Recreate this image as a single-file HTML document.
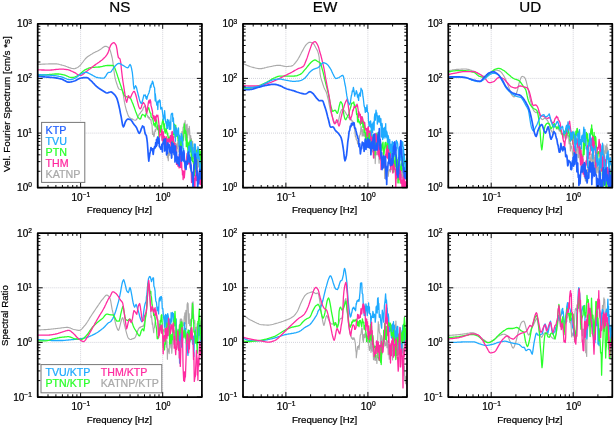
<!DOCTYPE html>
<html><head><meta charset="utf-8"><title>Spectra</title>
<style>
html,body{margin:0;padding:0;background:#fff;}
body{width:614px;height:426px;overflow:hidden;font-family:"Liberation Sans",sans-serif;}
svg{display:block;will-change:transform;opacity:0.999;}
text{font-family:"Liberation Sans",sans-serif;fill:#000;stroke:#000;stroke-width:0.24;}
.lg text{stroke-width:0.25;}
.c{fill:none;stroke-linejoin:round;stroke-linecap:round;}
.g{stroke:#c2c2cc;stroke-width:0.7;stroke-dasharray:1 1;fill:none;}
.t{stroke:#000;stroke-width:0.95;fill:none;}
.b{stroke:#000;stroke-width:1.75;fill:none;stroke-linejoin:round;}
</style></head><body>
<svg width="614" height="426" viewBox="0 0 614 426">
<rect x="0" y="0" width="614" height="426" fill="#ffffff"/>
<g id="p1">
<clipPath id="cp1"><rect x="37.7" y="23.8" width="164.2" height="163.9"/></clipPath>
<path class="g" d="M80.6 23.8V187.7"/>
<path class="g" d="M162.7 23.8V187.7"/>
<path class="g" d="M37.7 78.4H201.9"/>
<path class="g" d="M37.7 133.1H201.9"/>
<g clip-path="url(#cp1)">
<path class="c" stroke="#aaaaaa" stroke-width="1.15" d="M36.4 64.4 L37.2 64.4 L38 64.4 L38.7 64.4 L39.5 64.3 L40.3 64.3 L41.1 64.3 L41.8 64.2 L42.6 64.2 L43.4 64.1 L44.2 64.1 L44.9 64.1 L45.7 64 L46.5 64 L47.3 64 L48 64 L48.8 63.9 L49.6 63.9 L50.4 63.9 L51.1 63.9 L51.9 63.8 L52.7 63.8 L53.5 63.8 L54.2 63.8 L55 63.8 L55.8 63.8 L56.6 63.9 L57.3 64 L58.1 64.1 L58.9 64.3 L59.6 64.5 L60.4 64.7 L61.2 64.9 L61.9 65.1 L62.7 65.3 L63.5 65.5 L64.2 65.7 L65 65.9 L65.7 66.2 L66.5 66.5 L67.2 66.8 L68 67.1 L68.7 67.4 L69.5 67.7 L70.3 67.9 L71 68.2 L71.8 68.4 L72.5 68.5 L73.3 68.6 L74 68.7 L74.7 68.6 L75.4 68.4 L76.1 68.1 L76.8 67.8 L77.6 67.4 L78.3 67 L79 66.4 L79.8 65.8 L80.6 64.9 L81.3 64 L82.1 63 L82.9 62 L83.6 61 L84.4 60 L85.2 59 L85.9 58.2 L86.7 57.5 L87.5 56.8 L88.3 56.2 L89.1 55.7 L89.9 55.2 L90.7 54.6 L91.5 54.2 L92.3 53.7 L93 53.2 L93.8 52.8 L94.6 52.4 L95.4 52 L96.2 51.6 L97 51.3 L97.8 50.9 L98.6 50.5 L99.4 50.1 L100.2 49.6 L101 49 L101.8 48.4 L102.6 47.7 L103.3 47.2 L104.1 46.7 L104.9 46.4 L105.7 46.3 L106.5 46.4 L107.3 46.8 L108.1 47.3 L108.9 48 L109.7 49.2 L110.5 51.4 L111.3 54.3 L112.1 57.5 L112.9 62 L113.6 68 L114.4 74 L115.2 78.6 L116 81.3 L116.7 83.5 L117.4 85.7 L118.2 87.9 L118.9 89 L119.6 89.3 L120.3 89.5 L120.9 89.6 L121.6 89.8 L122.3 90.1 L123 92.8 L123.8 97.8 L124.5 102.4 L125.2 105.7 L126 108.8 L126.7 111.3 L127.5 113.6 L128.2 115.6 L129 116.9 L129.6 117.6 L130.3 118.1 L131 118.5 L131.6 118.8 L131.8 118.9 L132.3 119.1 L133 119.4 L133.6 119.7 L134.3 120 L135 120.2 L135.6 120.2 L136.3 119.8 L136.6 119.4 L137 118.9 L137.7 117.4 L138.3 115.8 L138.7 115.4 L139 114.6 L139.7 113.6 L140.3 113.2 L140.8 112.1 L141 111.9 L141.7 111.3 L142.3 109.9 L142.7 110 L143.1 108.1 L143.8 107.1 L144.5 105.9 L145.3 107.3 L146.1 111.3 L146.3 111.8 L146.8 114.9 L147.5 115.4 L147.9 117.5 L148.3 116.5 L149 118.6 L149.5 117.5 L149.8 119.2 L150.5 119.9 L151 119.6 L151.3 122.9 L152 124.5 L152.5 134.5 L152.7 130.9 L153.5 135.1 L153.9 136.6 L154.1 136.3 L154.7 132.1 L155.2 129.5 L155.4 131.5 L156.1 128.9 L156.5 127.1 L156.8 126.2 L157.5 129.7 L157.8 125.1 L158.2 130.1 L158.9 125.4 L159.7 130.7 L160.1 126.4 L160.4 129.6 L161.2 131.9 L161.9 140.2 L162.4 131.6 L162.7 144.6 L163.4 140.2 L164.2 137.3 L164.5 149.4 L164.9 140.9 L165.5 146.6 L165.7 144.9 L166.4 148 L167.1 150.8 L167.4 157.6 L167.8 156.3 L168.3 160.7 L168.5 153.3 L169.1 151.7 L169.7 155.5 L170.1 150.5 L170.4 151.3 L171 145 L171.8 157.5 L172.5 146.2 L172.6 143.8 L173.2 142.6 L173.4 140.5 L173.9 141.4 L174.2 145.2 L174.6 152.6 L175 142.9 L175.3 143 L175.7 151.2 L176 144 L176.5 147 L176.7 146.9 L177.2 143.2 L177.4 148.7 L177.9 140.7 L178.1 151.9 L178.6 140.6 L178.8 140.7 L179.3 142.3 L179.5 140.8 L179.9 135.9 L180.2 145.3 L180.6 139.8 L180.9 136.3 L181.2 141.6 L181.6 142 L181.9 131.5 L182.3 134.3 L182.5 137.9 L183.1 127.1 L183.7 127.3 L184.3 122.8 L184.5 126.1 L184.9 133.1 L185.1 120.6 L185.4 140.2 L185.7 132.2 L186 124.8 L186.3 128.7 L186.5 139 L187.1 124 L187.6 138.1 L187.8 131.3 L188.1 129.4 L188.6 128.6 L189.2 135 L189.3 126.4 L189.7 131.5 L190.1 148 L190.7 135.5 L191.2 146.4 L191.3 138.3 L191.6 140.8 L192 143.1 L192.1 153.4 L192.6 141.3 L193 158.1 L193.2 149.3 L193.5 158.8 L193.8 147.5 L194.4 154.5 L194.8 152.6 L195.1 153.3 L195.3 146 L195.7 147.1 L196.1 154.8 L196.4 151.9 L196.5 150.3 L196.9 157.5 L197.3 157.8 L197.6 169.1 L197.7 157.1 L198.1 158.9 L198.4 166.9 L198.5 158.4 L198.9 156.2 L199.1 158.2 L199.3 156.5 L199.7 155.4 L199.9 163.2 L200.1 157.6 L200.4 155.7 L200.6 157.1 L200.8 153.4 L201.2 159.4 L201.4 153.5 L201.5 152.6 L201.9 157.2 L202.1 153.5"/>
<path class="c" stroke="#2bff2b" stroke-width="1.3" d="M36.4 75.4 L37.2 75.4 L38 75.3 L38.8 75.3 L39.5 75.2 L40.3 75.2 L41.1 75.1 L41.9 75.1 L42.7 75 L43.4 75 L44.2 74.9 L45 74.9 L45.8 74.8 L46.6 74.8 L47.3 74.7 L48.1 74.7 L48.8 74.6 L49.6 74.5 L50.3 74.4 L51.1 74.4 L51.8 74.3 L52.6 74.2 L53.4 74.1 L54.1 74.1 L54.9 74 L55.6 74 L56.4 74 L57.1 73.9 L57.9 74 L58.7 74 L59.5 74.1 L60.3 74.2 L61.1 74.4 L61.9 74.5 L62.7 74.6 L63.5 74.8 L64.2 75 L65 75.2 L65.8 75.5 L66.5 75.8 L67.3 76.2 L68.1 76.5 L68.8 76.8 L69.6 77.1 L70.4 77.3 L71.1 77.5 L71.9 77.5 L72.7 77.5 L73.5 77.3 L74.3 77.1 L75.1 76.9 L75.9 76.5 L76.7 76.2 L77.5 75.8 L78.3 75.4 L79 75 L79.8 74.3 L80.6 73.6 L81.4 72.8 L82.2 72.1 L83 71.3 L83.8 70.7 L84.6 70.1 L85.4 69.7 L86.2 69.3 L87 68.9 L87.8 68.6 L88.6 68.2 L89.3 68 L90.1 67.7 L90.9 67.6 L91.7 67.5 L92.5 67.4 L93.2 67.4 L94 67.3 L94.8 67.3 L95.5 67.2 L96.3 67.2 L97.1 67.2 L97.8 67.1 L98.6 67 L99.4 67 L100.2 66.9 L100.9 66.7 L101.7 66.6 L102.5 66.4 L103.2 66.2 L104 66 L104.8 65.9 L105.5 65.7 L106.3 65.6 L107.1 65.5 L107.8 65.5 L108.5 65.5 L109.2 65.5 L109.9 65.5 L110.7 65.5 L111.4 65.5 L112.1 65.5 L112.7 65.5 L113.3 65.6 L114.1 66.4 L114.8 68.1 L115.6 70.1 L116.3 72.1 L117.1 74.4 L117.8 76.8 L118.5 78.8 L119.1 80.8 L119.8 82.9 L120.5 84.9 L121.2 86.8 L121.8 88.8 L122.5 91 L123.2 93.1 L123.8 94.7 L124.5 95.7 L125.2 96.2 L126 96.5 L126.7 96.8 L127.4 97.1 L128.1 97.2 L128.7 97.4 L129.4 97.6 L130.1 97.9 L130.8 98.9 L131.6 100.6 L131.8 101.2 L132.3 102.4 L133 104 L133.6 105.8 L134.3 107.5 L135 109.6 L135.6 111.4 L136.4 113.3 L136.6 113.9 L137.1 115.3 L137.9 117.2 L138.6 117.9 L139.4 118.6 L140.1 119.1 L140.8 118.3 L141.6 115.7 L142.3 114.5 L142.7 114.4 L143.1 114.8 L143.8 115 L144.5 115.5 L145.2 117 L145.9 114.3 L146.3 112.9 L146.6 111.3 L147.2 111.1 L147.9 108.4 L148.7 107.7 L149.4 110.3 L150.1 112.8 L150.9 113.5 L151 116.6 L151.6 117.7 L152.4 117.8 L153.1 120.5 L153.9 125.1 L154.6 123.8 L155.2 126.9 L155.7 120.5 L156.3 121.7 L156.5 119.8 L157 124.6 L157.7 129.2 L158.4 128.5 L159 137.3 L159.1 132.6 L159.7 129.3 L160.1 131.8 L160.4 125.6 L161 127.3 L161.3 132.5 L161.6 126.7 L162.2 122.9 L162.4 121.9 L162.9 119.5 L163.4 121.6 L164.1 129.3 L164.5 123.8 L164.7 131.3 L165.4 133.2 L166.2 128.3 L166.4 129.8 L166.9 132 L167.4 135 L167.6 133.2 L168.3 138.8 L169 137.4 L169.2 139.1 L169.7 141.3 L170.1 136.6 L170.4 141.3 L171 137.9 L171.6 138.2 L171.8 136.4 L172.3 144 L172.6 141.8 L173 132.9 L173.4 134.7 L173.7 132.8 L174.2 134.2 L174.4 124.2 L175 137.3 L175.7 125.2 L176.3 134.1 L176.5 129.6 L176.9 133 L177.2 130.8 L177.6 135.8 L177.9 138.7 L178.2 140.6 L178.6 138.6 L178.8 137.5 L179.3 143.5 L179.5 140.9 L179.9 145.6 L180.2 140.4 L180.6 154.7 L180.9 142.7 L181.2 141.1 L181.6 143.9 L181.9 148.3 L182.3 138.1 L182.5 139.1 L183.1 140.9 L183.7 136.1 L184.3 123.8 L184.5 127.4 L184.9 133.1 L185.1 129.9 L185.4 133.4 L185.7 130.8 L186 132.3 L186.3 146.7 L186.5 134 L187 141.7 L187.1 138.8 L187.6 146.5 L188.1 152.4 L188.7 142.7 L188.9 155.7 L189.2 141.9 L189.6 149.1 L190.2 148 L190.3 140.3 L190.7 151.9 L191 140.1 L191.2 160.3 L191.6 142.3 L192.1 154.8 L192.3 151.3 L192.6 161.5 L192.9 153.5 L193 160.5 L193.5 163.9 L193.9 161.9 L194.2 167 L194.4 175.8 L194.8 167.6 L195.3 171.8 L195.4 162.3 L195.7 169.8 L196 155.7 L196.5 164.8 L196.7 162 L196.9 150.2 L197.3 153.1 L197.7 157 L197.9 148.9 L198.1 149.7 L198.5 151.5 L198.9 152.9 L199.2 149.4 L199.7 155.9 L199.9 155 L200.1 153.4 L200.4 169.3 L200.6 151.1 L200.8 156.1 L201.2 158.1 L201.4 156.1 L201.5 164.6 L201.9 151 L202.1 160.1"/>
<path class="c" stroke="#ff2ba0" stroke-width="1.3" d="M36.4 69.7 L37.2 69.7 L38 69.8 L38.7 69.8 L39.5 69.8 L40.3 69.9 L41 69.9 L41.8 70 L42.5 70 L43.3 70 L44.1 70 L44.8 70.1 L45.6 70.1 L46.4 70.1 L47.1 70.1 L47.9 70.1 L48.7 70.1 L49.5 70.1 L50.3 70.1 L51.1 70 L51.8 70 L52.6 69.9 L53.4 69.8 L54.2 69.7 L55 69.6 L55.8 69.5 L56.6 69.4 L57.4 69.3 L58.2 69.3 L59 69.2 L59.8 69.1 L60.6 69.1 L61.4 69.1 L62.1 69.1 L62.9 69.1 L63.7 69.2 L64.5 69.3 L65.3 69.4 L66.1 69.5 L66.9 69.6 L67.7 69.7 L68.5 69.9 L69.3 70.1 L70.1 70.4 L70.9 70.8 L71.7 71.1 L72.4 71.5 L73.2 71.9 L74 72.3 L74.8 72.7 L75.6 73.1 L76.4 73.7 L77.2 74.2 L78 74.7 L78.8 75.1 L79.6 75.3 L80.4 75.4 L81.2 75.3 L82 75 L82.7 74.5 L83.5 73.9 L84.3 73.2 L85.1 72.5 L85.9 71.8 L86.7 71.2 L87.5 70.7 L88.2 70.1 L89 69.5 L89.8 69 L90.5 68.4 L91.3 67.8 L92.1 67.2 L92.9 66.6 L93.6 66 L94.4 65.4 L95.2 64.9 L95.9 64.3 L96.7 63.8 L97.5 63.2 L98.2 62.7 L99 62.2 L99.8 61.6 L100.5 61.1 L101.3 60.5 L102.1 59.9 L102.8 59.2 L103.6 58.5 L104.3 57.8 L105 57.1 L105.7 56.3 L106.4 55.4 L107.1 54.4 L107.8 53.2 L108.6 51.3 L109.4 48.8 L110.2 46.4 L111 44.8 L111.7 44 L112.4 43.3 L113.1 42.9 L113.8 42.7 L114.4 42.9 L115 43.6 L115.7 44.6 L116.3 45.8 L117 49.3 L117.7 54.3 L118.4 57.5 L118.9 58 L119.5 58.4 L120 58.9 L120.8 62.9 L121.5 70 L122.3 76.8 L123 82 L123.8 86.8 L124.5 91.3 L125.2 96 L126 100.5 L126.7 102.4 L127.5 99.1 L128.3 95.7 L128.9 96.3 L129.5 97.4 L130.1 97.9 L130.8 97 L131.6 95.1 L131.8 94.6 L132.3 93.5 L132.9 92.5 L133.5 91.6 L134.1 91.3 L134.3 91.5 L134.8 92.2 L135.6 94.3 L136.3 96.8 L136.6 97.9 L137.1 100.1 L137.9 103.4 L138.6 106.2 L139.4 108.1 L140.1 108.9 L140.8 108.3 L141.4 106.9 L142.1 104.4 L142.7 103.3 L143.5 102.4 L144 103.6 L144.5 103.8 L144.6 104.2 L145.2 105.3 L146 109 L146.3 111.4 L146.8 113.3 L147.6 107 L147.9 106.1 L148.4 102.2 L149 100.4 L149.5 103 L150.1 99.7 L150.7 101.4 L151 105.7 L151.3 106.4 L151.9 109 L152.5 111.5 L152.7 114.9 L153.5 118.6 L153.9 115.6 L154.2 119.3 L155 121.2 L155.2 116.6 L155.7 121.3 L156.5 115.1 L157.3 116.5 L157.8 115.1 L158.5 120.2 L159 124.6 L159.6 137 L160 135.2 L160.7 134.5 L161.3 134.3 L161.9 129.4 L162.4 140.7 L162.6 132.2 L163.3 131.8 L164 144 L164.5 136.4 L164.7 137.9 L165.4 146.3 L166.2 136.7 L166.4 138.3 L166.9 149.4 L167.4 139 L167.6 139.6 L168.3 142.1 L169 138.7 L169.2 140 L169.7 141.7 L170.1 142.8 L170.4 135.4 L171 146.2 L171.6 140.2 L171.8 132.2 L172.3 131.5 L172.6 140.5 L172.9 137.1 L173.4 136.6 L174.1 152.7 L174.8 143.1 L175 148.3 L175.4 153.4 L175.7 152.9 L176 146.1 L176.5 164.4 L176.6 155.7 L177.2 157.6 L177.9 166.1 L178.5 158.7 L179.1 167.9 L179.3 154.2 L179.8 157.4 L179.9 156.2 L180.4 167.4 L180.6 156 L181 164.8 L181.2 167.6 L181.6 161.8 L181.9 169.6 L182.3 171 L182.5 174.9 L182.9 170.8 L183.1 179.6 L183.5 171.1 L183.7 174.5 L184.1 177.8 L184.3 177.9 L184.8 172 L185.4 162 L186 167.9 L186.5 158.1 L187.1 153.5 L187.3 163.3 L187.6 152.5 L188 157.4 L188.1 154.8 L188.7 163.9 L189.2 162.7 L189.4 163.3 L189.7 158.1 L190.1 167.2 L190.7 163.6 L191.2 168.2 L191.5 182.5 L191.6 173.5 L192.1 172.4 L192.6 180.8 L192.9 173.8 L193 178.8 L193.5 176.9 L193.9 184.4 L194.2 178.4 L194.4 181.8 L194.8 191 L195.3 175.3 L195.4 178.3 L195.7 179.7 L196 169.8 L196.5 180.6 L196.7 166.3 L196.9 179.4 L197.3 170.2 L197.7 178.6 L197.9 182.1 L198.1 182.1 L198.5 176.3 L198.9 177.5 L199.2 172.8 L199.7 183.4 L199.9 166.2 L200.1 184.5 L200.4 166.1 L200.6 184.7 L200.8 167.8 L201.2 173.1 L201.4 166.5 L201.5 169.5 L201.9 169.8 L202.1 170.9"/>
<path class="c" stroke="#1faaff" stroke-width="1.3" d="M36.4 74.4 L37.2 74.4 L37.9 74.5 L38.6 74.5 L39.3 74.6 L40.1 74.7 L40.8 74.7 L41.5 74.8 L42.3 74.9 L43 74.9 L43.7 75 L44.5 75 L45.2 75 L46 75.1 L46.8 75.1 L47.5 75.2 L48.3 75.2 L49.1 75.2 L49.8 75.2 L50.6 75.3 L51.4 75.3 L52.1 75.4 L52.9 75.4 L53.7 75.5 L54.4 75.6 L55.2 75.7 L56 75.8 L56.7 75.9 L57.5 76.1 L58.3 76.2 L59 76.4 L59.8 76.6 L60.6 76.7 L61.4 76.9 L62.1 77.1 L62.9 77.4 L63.7 77.7 L64.4 78 L65.2 78.4 L66 78.7 L66.7 79 L67.5 79.3 L68.3 79.5 L69 79.6 L69.8 79.7 L70.6 79.6 L71.3 79.5 L72.1 79.3 L72.8 79.1 L73.6 78.8 L74.3 78.5 L75.1 78.2 L75.8 77.8 L76.6 77.3 L77.4 76.7 L78.1 76 L78.9 75.4 L79.6 74.8 L80.4 74.4 L81.1 74 L81.9 73.6 L82.6 73.2 L83.4 72.8 L84.1 72.5 L84.9 72.3 L85.7 72.3 L86.4 72.3 L87.2 72.5 L87.9 72.8 L88.7 73.2 L89.4 73.6 L90.2 74 L90.9 74.4 L91.7 74.8 L92.5 75.2 L93.3 75.7 L94.1 76.2 L94.9 76.6 L95.7 77 L96.5 77.3 L97.3 77.5 L98.1 77.7 L98.9 77.8 L99.6 77.9 L100.4 78 L101.2 78.1 L102 78.1 L102.8 78.2 L103.6 78.2 L104.4 77.8 L105.1 77 L105.9 75.8 L106.6 74.6 L107.4 73.4 L108.1 72.6 L108.9 72.3 L109.4 72.3 L110 72.3 L110.7 72 L111.5 71.2 L112.2 70 L113 68.8 L113.7 67.6 L114.5 66.7 L115.2 66 L115.9 65.2 L116.7 64.5 L117.4 63.9 L118.2 63.5 L118.9 63.4 L119.7 63.5 L120.4 63.8 L121.2 64.2 L121.9 64.7 L122.6 65.2 L123.4 65.6 L124.1 66 L124.9 66.5 L125.6 67 L126.4 67.4 L127.1 67.7 L127.8 67.8 L128.6 67 L129.3 65.4 L130.1 64.5 L130.8 65.7 L131.6 68.6 L131.8 69.8 L132.3 72.3 L132.9 78 L133.5 85.4 L134.1 89 L134.3 88.7 L134.9 87.3 L135.6 85.7 L136.4 87.2 L136.6 87.9 L137.1 90.3 L137.9 93.4 L138.5 96.1 L138.7 96.5 L139.2 98.7 L139.9 101.3 L140.6 102.7 L140.8 102.8 L141.2 103.4 L141.9 102.8 L142.6 100.3 L142.7 99.8 L143.2 97.9 L143.9 95 L144.5 95.6 L145.3 94.9 L146.1 98.4 L146.3 96.6 L146.8 99.3 L147.5 96.4 L147.9 95 L148.3 94.2 L149 92.7 L149.5 90.5 L149.8 89.7 L150.5 85.5 L151 87.3 L151.3 83.8 L151.9 84 L152.4 81.1 L153 82.2 L153.8 86.4 L154.6 88 L155.2 100.8 L155.3 93.7 L156.1 101.6 L156.5 102.6 L156.8 105.2 L157.5 101.8 L157.8 109.5 L158.2 101 L158.8 102.1 L159 102 L159.5 99.9 L160.1 100.6 L160.7 109 L161.3 108.3 L161.9 107.5 L162.4 111.3 L163.1 117.1 L163.4 120.2 L163.9 118.1 L164.5 113.5 L164.6 110.6 L165.4 120.3 L166.1 123.6 L166.4 122.1 L166.9 128.1 L167.4 119.4 L167.6 128.5 L168.3 122.2 L168.9 119.8 L169.2 124.6 L169.4 129.4 L170.1 122.2 L170.7 129.3 L171 116.1 L171.3 114 L171.8 114.4 L172.1 113.2 L172.6 113.5 L172.8 121.4 L173.4 117.8 L174.1 133.4 L174.8 125.6 L175 127.5 L175.4 141.3 L175.7 130 L176 135 L176.5 136.3 L176.6 128 L177.2 135.6 L177.9 132.9 L178.5 128 L179.1 146.6 L179.3 134.9 L179.8 143.3 L179.9 139.4 L180.4 138.4 L180.6 138.6 L181 138.9 L181.2 133.4 L181.6 140.8 L181.9 134.9 L182.3 144.8 L182.5 136.9 L182.9 144.6 L183.1 151.6 L183.5 148.3 L183.7 151.8 L184.1 162 L184.3 160.2 L184.8 166.5 L185.4 168.5 L186 165.3 L186.5 165.8 L187.1 160.8 L187.3 163.4 L187.6 152.6 L187.9 162.5 L188.1 150.7 L188.5 161.4 L188.7 146.2 L189.2 147.6 L189.7 152.2 L190.2 144.4 L190.4 142.6 L190.7 143.9 L191 144.6 L191.2 141.2 L191.6 144.3 L192.1 153.4 L192.3 147.5 L192.6 156.5 L192.9 151.2 L193 153.5 L193.5 151.3 L193.9 155.6 L194.2 144 L194.4 157.4 L194.8 147.1 L195.3 144.2 L195.4 156.5 L195.7 152.1 L196 158.4 L196.5 153 L196.7 154.7 L196.9 156.3 L197.3 156.4 L197.7 158.6 L197.9 146.6 L198.1 147.3 L198.5 154 L198.9 159.2 L199.2 157.2 L199.7 168.5 L199.9 160.7 L200.1 176.1 L200.4 165.4 L200.6 168.5 L200.8 164.1 L201.2 169.7 L201.4 166.1 L201.5 169.7 L201.9 162.4 L202.1 163.4"/>
<path class="c" stroke="#1f5fff" stroke-width="1.7" d="M36.4 76.1 L37.2 76.1 L37.9 76.2 L38.6 76.3 L39.3 76.4 L40.1 76.5 L40.8 76.5 L41.5 76.6 L42.3 76.7 L43 76.8 L43.7 76.8 L44.5 76.9 L45.2 77 L46 77 L46.8 77.1 L47.5 77.1 L48.3 77.2 L49.1 77.2 L49.8 77.3 L50.6 77.3 L51.4 77.4 L52.1 77.5 L52.9 77.5 L53.7 77.6 L54.4 77.7 L55.2 77.8 L56 77.9 L56.7 78.1 L57.5 78.2 L58.3 78.3 L59 78.5 L59.8 78.7 L60.6 78.8 L61.4 79 L62.1 79.3 L62.8 79.6 L63.6 80 L64.3 80.4 L65.1 80.8 L65.8 81.2 L66.5 81.6 L67.3 81.9 L68 82.1 L68.7 82.2 L69.5 82.2 L70.3 82 L71.1 81.9 L71.9 81.7 L72.7 81.5 L73.5 81.2 L74.3 81 L75.1 80.7 L75.8 80.4 L76.6 80 L77.4 79.6 L78.1 79.1 L78.9 78.7 L79.6 78.4 L80.4 78.2 L81.2 78 L82 77.9 L82.7 77.8 L83.5 77.7 L84.3 77.6 L85.1 77.6 L85.9 77.6 L86.7 77.5 L87.4 77.7 L88.1 78.1 L88.8 78.7 L89.5 79.4 L90.2 80.1 L90.9 80.7 L91.7 81.4 L92.5 82.2 L93.3 83.1 L94.1 83.9 L94.9 84.8 L95.7 85.6 L96.5 86.4 L97.3 87 L98.1 87.7 L98.9 88.2 L99.6 88.8 L100.4 89.3 L101.2 89.8 L102 90.3 L102.8 90.8 L103.6 91.3 L104.4 91.8 L105.2 92.3 L106 92.8 L106.8 93 L107.5 92.9 L108.2 92.7 L108.9 92.4 L109.6 92.2 L110.3 92 L111 91.9 L111.8 92.2 L112.6 92.8 L113.3 93.5 L114 94.1 L114.7 94.8 L115.4 95.7 L116 96.7 L116.7 97.9 L117.4 99.9 L118.2 102.7 L118.9 105.8 L119.7 109.2 L120.4 113.1 L121.2 116.9 L121.9 121.1 L122.6 125.1 L123.4 126.9 L124.1 125.7 L124.9 123.3 L125.6 121.4 L126.4 120.3 L127.1 119.5 L127.8 119.1 L128.6 119.2 L129.3 119.3 L130 119.4 L130.8 119.8 L131.5 120.7 L131.8 121.1 L132.3 121.8 L133 123 L133.8 124.1 L134.3 124.7 L134.5 125 L135.2 125.8 L135.9 126.8 L136.6 127.8 L137.3 129.5 L138 131.2 L138.7 132.8 L139.4 133.3 L140 132.4 L140.6 131.2 L141.3 128.6 L141.9 127.7 L142.5 126 L142.7 126.1 L143.1 126.5 L143.8 126.7 L144.4 129.7 L145 133.1 L145.6 134.7 L146.3 135.3 L146.9 139 L147.4 143.2 L147.8 148.6 L148.3 155.9 L148.8 161.1 L149.2 157.4 L149.5 156.5 L149.7 154.3 L150.4 151.4 L151 147.5 L151.8 149.8 L152.5 148.8 L153.2 154.4 L153.8 149.7 L154.4 147.2 L155 146.1 L155.2 147.8 L155.7 142.5 L156.3 146.5 L156.5 139.6 L156.9 145.3 L157.5 137.7 L157.8 137 L158.2 138.1 L158.8 143.4 L159 138.3 L159.4 146.8 L160 146.8 L160.7 149.1 L161.3 148.5 L161.9 144.4 L162.4 152 L162.7 143.4 L163.4 143.1 L164.1 139.4 L164.5 139.3 L164.7 150.9 L165.4 138.9 L166 146.3 L166.4 148.1 L166.6 155 L167.2 146.8 L167.4 153.3 L167.9 142.8 L168.3 145.3 L168.5 146 L169.1 144.6 L169.7 151.8 L170.1 147.2 L170.4 153 L171 147.1 L171.6 158.1 L171.8 142.4 L172.3 144.4 L172.6 148.3 L172.9 152.5 L173.4 143.9 L174.1 154.7 L174.8 146 L175 161.9 L175.4 146.1 L175.7 159.2 L176 159.3 L176.5 152.4 L176.6 159.8 L177.2 163.6 L177.9 157.2 L178.5 160.4 L179.2 165.8 L179.9 146.2 L180.6 154.1 L180.7 148.8 L181.2 146.7 L181.5 161.2 L181.9 151.8 L182.2 158.1 L182.5 159.9 L182.8 153.7 L183.1 154.3 L183.5 161 L183.7 150.6 L184.1 152.8 L184.3 160 L184.7 160.1 L185.4 167.4 L186 169.4 L186.5 161.3 L187.1 164 L187.3 164.2 L187.6 162.6 L187.9 158.3 L188.1 156.4 L188.5 152.1 L188.7 157.3 L189.2 155 L189.7 162 L190.2 158.5 L190.4 157.5 L190.7 169.1 L191 164.9 L191.2 170.8 L191.6 171.8 L192.1 172.8 L192.3 177 L192.6 182 L192.9 178.4 L193 189 L193.5 173.6 L193.9 165.3 L194.2 164 L194.4 168.9 L194.8 154.2 L195.3 154.5 L195.4 163 L195.7 157.5 L196 163.5 L196.5 160 L196.7 172 L196.9 175.6 L197.3 171.1 L197.7 188.5 L198 180.3 L198.1 180.5 L198.5 183.8 L198.9 178.9 L199.2 176.6 L199.7 169.3 L199.9 172.6 L200.1 178.9 L200.4 172.2 L200.6 172.1 L200.8 178.4 L201.2 173.7 L201.4 169.9 L201.5 174.3 L201.9 179.9 L202.1 168.3"/>
</g>
<path class="t" d="M37.7 187.7v-2.7M37.7 23.8v2.7M48 187.7v-2.7M48 23.8v2.7M55.9 187.7v-2.7M55.9 23.8v2.7M62.4 187.7v-2.7M62.4 23.8v2.7M67.9 187.7v-2.7M67.9 23.8v2.7M72.7 187.7v-2.7M72.7 23.8v2.7M76.9 187.7v-2.7M76.9 23.8v2.7M80.6 187.7v-5M80.6 23.8v5M105.3 187.7v-2.7M105.3 23.8v2.7M119.8 187.7v-2.7M119.8 23.8v2.7M130.1 187.7v-2.7M130.1 23.8v2.7M138 187.7v-2.7M138 23.8v2.7M144.5 187.7v-2.7M144.5 23.8v2.7M150 187.7v-2.7M150 23.8v2.7M154.8 187.7v-2.7M154.8 23.8v2.7M159 187.7v-2.7M159 23.8v2.7M162.7 187.7v-5M162.7 23.8v5M187.4 187.7v-2.7M187.4 23.8v2.7M201.9 187.7v-2.7M201.9 23.8v2.7M37.7 187.7h5M201.9 187.7h-5M37.7 171.3h2.7M201.9 171.3h-2.7M37.7 161.6h2.7M201.9 161.6h-2.7M37.7 154.8h2.7M201.9 154.8h-2.7M37.7 149.5h2.7M201.9 149.5h-2.7M37.7 145.2h2.7M201.9 145.2h-2.7M37.7 141.5h2.7M201.9 141.5h-2.7M37.7 138.4h2.7M201.9 138.4h-2.7M37.7 135.6h2.7M201.9 135.6h-2.7M37.7 133.1h5M201.9 133.1h-5M37.7 116.6h2.7M201.9 116.6h-2.7M37.7 107h2.7M201.9 107h-2.7M37.7 100.2h2.7M201.9 100.2h-2.7M37.7 94.9h2.7M201.9 94.9h-2.7M37.7 90.6h2.7M201.9 90.6h-2.7M37.7 86.9h2.7M201.9 86.9h-2.7M37.7 83.7h2.7M201.9 83.7h-2.7M37.7 80.9h2.7M201.9 80.9h-2.7M37.7 78.4h5M201.9 78.4h-5M37.7 62h2.7M201.9 62h-2.7M37.7 52.4h2.7M201.9 52.4h-2.7M37.7 45.5h2.7M201.9 45.5h-2.7M37.7 40.2h2.7M201.9 40.2h-2.7M37.7 35.9h2.7M201.9 35.9h-2.7M37.7 32.3h2.7M201.9 32.3h-2.7M37.7 29.1h2.7M201.9 29.1h-2.7M37.7 26.3h2.7M201.9 26.3h-2.7"/>
<rect class="b" x="37.7" y="23.8" width="164.2" height="163.9"/>
<text x="31.9" y="27.3" font-size="10" text-anchor="end">10<tspan font-size="6.6" dy="-3.8">3</tspan></text>
<text x="31.9" y="81.9" font-size="10" text-anchor="end">10<tspan font-size="6.6" dy="-3.8">2</tspan></text>
<text x="31.9" y="136.6" font-size="10" text-anchor="end">10<tspan font-size="6.6" dy="-3.8">1</tspan></text>
<text x="31.9" y="191.2" font-size="10" text-anchor="end">10<tspan font-size="6.6" dy="-3.8">0</tspan></text>
<text x="80.9" y="200.6" font-size="10" text-anchor="middle">10<tspan font-size="6.6" dy="-3.8">−1</tspan></text>
<text x="163" y="200.6" font-size="10" text-anchor="middle">10<tspan font-size="6.6" dy="-3.8">0</tspan></text>
<text x="119.4" y="213.2" font-size="9.65" text-anchor="middle">Frequency [Hz]</text>
<text x="119.8" y="12.2" font-size="15.2" text-anchor="middle">NS</text>
</g>
<g id="p2">
<clipPath id="cp2"><rect x="243" y="23.8" width="164" height="163.9"/></clipPath>
<path class="g" d="M285.9 23.8V187.7"/>
<path class="g" d="M367.9 23.8V187.7"/>
<path class="g" d="M243 78.4H407"/>
<path class="g" d="M243 133.1H407"/>
<g clip-path="url(#cp2)">
<path class="c" stroke="#aaaaaa" stroke-width="1.15" d="M241.4 63.4 L242 63.5 L242.5 63.7 L243.1 63.8 L243.9 64 L244.6 64.3 L245.4 64.6 L246.2 64.9 L247 65.3 L247.7 65.6 L248.5 65.9 L249.3 66.2 L250 66.5 L250.8 66.8 L251.6 67 L252.3 67.2 L253.1 67.4 L253.9 67.6 L254.6 67.8 L255.4 68 L256.2 68.2 L256.9 68.3 L257.7 68.5 L258.5 68.6 L259.2 68.6 L260 68.7 L260.8 68.6 L261.6 68.6 L262.3 68.4 L263.1 68.3 L263.9 68.1 L264.6 67.9 L265.4 67.7 L266.2 67.5 L266.9 67.3 L267.7 67.1 L268.5 67 L269.2 66.8 L270 66.7 L270.7 66.5 L271.5 66.4 L272.2 66.2 L273 66 L273.7 65.9 L274.5 65.8 L275.3 65.6 L276 65.5 L276.8 65.4 L277.5 65.3 L278.3 65.3 L279 65.3 L279.8 65.3 L280.5 65.4 L281.2 65.6 L282 65.7 L282.7 65.9 L283.5 66.1 L284.2 66.3 L284.9 66.4 L285.7 66.5 L286.4 66.6 L287.2 66.5 L287.9 66.5 L288.7 66.4 L289.4 66.3 L290.2 66.2 L291 66.1 L291.7 65.9 L292.5 65.6 L293.2 65.1 L294 64.4 L294.7 63.5 L295.5 62.6 L296.2 61.6 L297 60.6 L297.7 59.6 L298.5 58.3 L299.3 56.9 L300 55.4 L300.8 53.9 L301.5 52.5 L302.3 51.1 L303 49.9 L303.7 48.6 L304.4 47.3 L305.1 46.2 L305.8 45.2 L306.5 44.4 L307.3 43.6 L308.1 42.9 L308.9 42.4 L309.7 42.3 L310.5 42.3 L311.3 42.5 L312 42.8 L312.8 43.1 L313.6 43.8 L314.4 44.9 L315.2 46.4 L316 48 L316.8 49.5 L317.6 51.1 L318.4 53.6 L319.2 57.5 L319.6 65.2 L320 73.2 L320.7 77.2 L321.4 79.6 L322.1 81.7 L322.8 84 L323.5 86.2 L324.2 88 L324.9 89.5 L325.6 90.7 L326.3 92.3 L327 94.6 L327.7 97.5 L328.5 100.7 L329.2 104.3 L329.9 108.1 L330.6 111.3 L331.3 113.7 L332 115.7 L332.7 117.6 L333.4 119.8 L334.1 121.9 L334.8 122.9 L335.6 122.8 L336.4 122.6 L337 122.4 L337.2 122.3 L338 121.8 L338.7 119.9 L339.4 116.3 L340.1 113.4 L340.8 111.5 L341.5 109.8 L341.7 109.5 L342.2 109.4 L342.9 109.3 L343.7 109.8 L343.9 110.6 L344.4 110.6 L345.1 111.8 L345.8 112.9 L346.6 114.7 L347.3 115.1 L347.9 116.9 L348 116.4 L348.8 118 L349.5 118.1 L349.7 117.8 L350.2 119.9 L350.9 118.8 L351.4 120.3 L351.6 119.9 L352.2 121.5 L352.8 121.2 L353.1 121.7 L353.5 123 L354.1 125.4 L354.7 129.8 L355.4 136.8 L356 136.3 L356.2 139.5 L356.6 140 L357.2 140.5 L357.6 143.9 L357.9 141.6 L358.5 142.3 L359 140.5 L359.7 135.3 L360.4 134.1 L361 126.2 L361.6 128.6 L362.2 136.2 L362.9 129.5 L363.5 135.9 L364.1 133.1 L364.7 136.4 L365.3 133.6 L365.4 140.9 L366.2 134.1 L366.4 135.6 L366.9 135.3 L367.5 147.5 L368.3 135.2 L368.6 137.3 L369 137.8 L369.6 148.3 L370.4 143.6 L370.6 145.4 L371.1 142.2 L371.6 143 L371.8 143.3 L372.5 152 L373.2 145.4 L373.5 143.7 L373.8 146.2 L374.4 158 L375.1 149.3 L375.2 163.6 L375.7 152 L376.1 152 L376.3 154.9 L376.9 152.8 L377.7 146.5 L378.4 148.9 L378.6 150.7 L379.1 163.2 L379.3 152.5 L379.8 158.2 L380.1 152.3 L380.5 155.9 L380.9 160.2 L381.2 158.1 L381.6 158 L381.9 167.3 L382.3 163.5 L382.6 165.5 L383 167.4 L383.3 167.4 L383.7 164 L384 162.5 L384.4 164.1 L384.7 178.4 L385.1 170.1 L385.4 163.5 L385.7 167.1 L386.1 166.1 L386.4 166 L386.8 169 L387 169 L387.5 169.3 L388.2 176.5 L388.8 171.7 L389.4 169.6 L390 169.9 L390.5 172 L390.7 168.1 L391.1 166.7 L391.3 169.9 L391.7 168.6 L392 169.4 L392.2 161.4 L392.7 172.5 L393.3 169.2 L393.8 164.6 L394.1 162.3 L394.3 166.9 L394.8 164.7 L395.3 169.2 L395.5 170.3 L395.8 171.9 L396.2 166.3 L396.8 170.8 L396.9 171.2 L397.2 182.8 L397.6 169 L398.2 174.7 L398.3 179 L398.6 170 L399 174.5 L399.5 173.1 L399.7 178.6 L399.9 174 L400.4 174.3 L400.8 171.7 L401.1 171.4 L401.6 174.7 L401.8 177.9 L402 170.4 L402.4 168.1 L402.8 168.1 L403.2 183.8 L403.6 166.5 L404 168.9 L404.4 176.5 L404.7 176.2 L405.2 168.6 L405.5 173.6 L405.9 179.6 L406.1 170.4 L406.3 168.9 L406.6 177 L407 171.7 L407.4 170"/>
<path class="c" stroke="#2bff2b" stroke-width="1.3" d="M241.4 88.1 L242.2 88.1 L242.9 88.1 L243.6 88.1 L244.3 88.1 L245.1 88.1 L245.8 88.1 L246.5 88.1 L247.3 88.1 L248 88.1 L248.7 88.1 L249.5 88.1 L250.2 88.1 L251 88 L251.8 87.9 L252.5 87.7 L253.3 87.5 L254.1 87.3 L254.8 87 L255.6 86.8 L256.4 86.5 L257.1 86.2 L257.9 86 L258.7 85.7 L259.4 85.5 L260.2 85.2 L261 84.9 L261.7 84.5 L262.5 84.2 L263.3 83.9 L264 83.5 L264.8 83.1 L265.6 82.8 L266.4 82.4 L267.1 82 L267.8 81.6 L268.6 81.1 L269.3 80.7 L270.1 80.2 L270.8 79.8 L271.5 79.3 L272.3 78.9 L273 78.5 L273.7 78.2 L274.5 77.8 L275.3 77.5 L276.1 77.1 L276.9 76.8 L277.7 76.5 L278.5 76.3 L279.3 76.1 L280.1 76.1 L280.9 76.1 L281.7 76.1 L282.5 76.1 L283.3 76.1 L284 76.1 L284.8 76.1 L285.6 76.1 L286.4 76.1 L287.2 76.1 L287.9 76.1 L288.6 76.1 L289.4 76.1 L290.1 76.1 L290.9 76.1 L291.6 76.1 L292.3 76.1 L293.1 76.1 L293.8 76.1 L294.6 76 L295.4 75.9 L296.2 75.8 L297 75.6 L297.8 75.3 L298.6 75 L299.4 74.7 L300.2 74.4 L300.9 73.9 L301.7 73.3 L302.4 72.6 L303.2 71.7 L303.9 70.8 L304.7 69.9 L305.4 69.1 L306.2 68.2 L307 67.2 L307.7 66.2 L308.5 65.3 L309.2 64.3 L310 63.5 L310.7 62.7 L311.4 62.1 L312.1 61.5 L312.8 60.9 L313.5 60.5 L314.2 60.1 L314.9 60 L315.7 60.2 L316.5 60.6 L317.3 61.2 L318.1 61.7 L318.7 62 L319.4 62.3 L320 62.7 L320.6 63.7 L321.3 65.6 L321.9 67.8 L322.5 70.1 L323.2 72.7 L323.9 75.7 L324.6 78.7 L325.3 81.7 L326.1 84.8 L326.9 87.9 L327.7 91 L328.5 94.4 L329.2 97.9 L329.9 101.7 L330.6 104.9 L331.3 107.8 L332 110.2 L332.7 111.3 L333.3 111.1 L333.9 110.7 L334.6 110.4 L335.2 110.2 L335.9 111 L336.6 112.6 L337 113 L337.3 113.4 L337.9 112.2 L338.5 109.6 L339 107 L339.4 105.4 L339.6 104.8 L340.1 102.7 L340.7 101.8 L341.4 102.3 L341.7 103.1 L342.2 103.8 L342.9 108.1 L343.7 113.3 L343.9 114.7 L344.2 116.3 L344.8 118.7 L345.4 119.5 L345.9 119.6 L346.1 119.2 L346.8 117.8 L347.5 116.5 L347.9 115.3 L348.2 115.4 L348.9 113.7 L349.6 110.6 L350.3 108.4 L351 106 L351.4 104.4 L351.7 103.1 L352.4 103.1 L353.1 102.8 L353.8 101.9 L354.4 106.5 L354.7 104.7 L354.9 105.6 L355.5 107 L356.1 108.9 L356.6 114.5 L357.2 113.7 L357.6 121.9 L357.9 118.5 L358.6 119.6 L359 122.2 L359.3 122.9 L360 121.8 L360.4 124.9 L360.7 120.7 L361.3 120.2 L361.7 123.4 L361.9 116.6 L362.6 119.6 L362.9 127.3 L363.2 123.7 L363.8 121.8 L364.1 132.5 L364.4 124.7 L365.1 133 L365.3 132.7 L365.7 138.6 L366.3 132.7 L366.9 143.9 L367.5 135.5 L368.2 140.8 L368.6 133.1 L368.8 137.5 L369.4 139.6 L369.6 134.2 L370.1 130.6 L370.6 139 L371.3 146.9 L371.6 140.9 L371.9 134.9 L372.5 144.2 L373.2 137.2 L373.5 143.9 L373.8 141.8 L374.4 139.9 L375.1 154.9 L375.2 138.2 L375.7 140.7 L376.1 149.5 L376.3 138.4 L376.9 133.1 L377.6 141.3 L377.8 135 L378.2 136.9 L378.6 147 L378.8 141.5 L379.3 143.2 L379.5 141.3 L380.1 143.1 L380.2 143.5 L380.9 143.8 L381.6 150.9 L382.3 145.4 L383 142.2 L383.7 156.2 L384.4 150.3 L385.1 142.8 L385.7 142.4 L386.3 149 L387 150.1 L387.6 138.4 L388.2 141.7 L388.8 150.5 L389.4 147 L390 148.4 L390.5 156.4 L390.7 156.3 L391.1 152.2 L391.3 150 L391.7 159.8 L392 163 L392.2 153.1 L392.6 159.2 L392.7 164.5 L393.2 157 L393.8 172 L394.3 163.8 L394.5 160.8 L394.8 162.1 L395.1 154.5 L395.3 166.3 L395.7 154.6 L396.3 156 L396.8 159.8 L397 167.7 L397.2 159.3 L397.6 162.5 L398.2 182.9 L398.6 170.5 L398.9 170.4 L399.1 169.9 L399.5 179.6 L399.9 171.1 L400.1 183 L400.4 166.8 L400.7 166 L401.2 163.9 L401.4 169.8 L401.6 170.5 L402 160.3 L402.4 159.9 L402.6 156.8 L402.8 157.9 L403.2 156.4 L403.6 168.8 L404 156.7 L404.4 159.5 L404.7 163.4 L405.2 160.8 L405.5 164.1 L405.9 161.2 L406.1 172.9 L406.3 168 L406.6 166.6 L407 158.6 L407.4 176.6"/>
<path class="c" stroke="#ff2ba0" stroke-width="1.3" d="M241.4 85.4 L242.2 85.4 L242.9 85.5 L243.6 85.6 L244.3 85.6 L245.1 85.7 L245.8 85.8 L246.5 85.9 L247.3 85.9 L248 86 L248.7 86 L249.5 86 L250.2 86 L251 86 L251.8 86 L252.5 86 L253.3 86 L254.1 86 L254.8 86 L255.6 86 L256.4 86 L257.1 86 L257.9 86 L258.7 86 L259.4 85.9 L260.2 85.7 L261 85.6 L261.7 85.4 L262.5 85.1 L263.3 84.9 L264 84.6 L264.8 84.4 L265.6 84.1 L266.4 83.9 L267.1 83.6 L267.9 83.4 L268.7 83.1 L269.4 82.9 L270.2 82.6 L271 82.3 L271.7 82 L272.5 81.7 L273.3 81.4 L274 81 L274.8 80.7 L275.6 80.4 L276.3 80 L277.1 79.6 L277.9 79.3 L278.6 78.9 L279.4 78.5 L280.2 78.1 L281 77.7 L281.7 77.3 L282.5 76.9 L283.3 76.5 L284 76.1 L284.8 75.7 L285.6 75.3 L286.3 75 L287.1 74.6 L287.9 74.2 L288.6 73.8 L289.4 73.4 L290.2 73.1 L290.9 72.7 L291.7 72.3 L292.5 71.8 L293.3 71.4 L294.1 70.9 L294.9 70.4 L295.7 70 L296.5 69.5 L297.3 69.1 L298 68.7 L298.8 68.3 L299.6 68.1 L300.3 67.8 L301.1 67.6 L301.8 67.2 L302.6 66.9 L303.3 66.3 L304.1 65.3 L304.9 63.6 L305.7 61.6 L306.5 59.6 L307.3 57.4 L308.1 54.9 L308.9 52.4 L309.7 50.1 L310.5 47.9 L311.3 45.6 L312 43.8 L312.8 42.7 L313.5 42.2 L314.2 41.8 L314.9 41.6 L315.6 41.9 L316.2 42.6 L316.9 43.7 L317.5 44.8 L318.2 46.3 L318.9 48.4 L319.5 50.8 L320.2 53.2 L321 55.8 L321.7 58.6 L322.4 61.6 L323.2 64.8 L324 68.7 L324.8 72.9 L325.5 77.3 L326.3 81.7 L327.1 85.8 L327.9 89.8 L328.7 94 L329.5 98.6 L330.2 103.6 L330.9 109.1 L331.6 113.4 L332.4 117.1 L333.2 120.5 L334 123 L334.8 123.9 L335.5 122.9 L336.2 120.8 L336.9 119.7 L337 119.9 L337.6 121.4 L338.3 124.4 L339 126.1 L339.4 125.1 L339.7 124.5 L340.4 121 L341.1 117.7 L341.7 115 L342.5 111.8 L343.2 109 L343.9 107.2 L344.6 104.6 L345.4 102.6 L345.9 101.3 L346.5 100.4 L347 99.3 L347.8 102.1 L348.5 107.5 L349.1 112.1 L349.6 116.6 L350.2 119.5 L351 117.7 L351.4 116.6 L351.7 115.9 L352.3 113.4 L352.8 110 L353.1 110.8 L353.4 109.7 L354.1 106.7 L354.7 106.7 L354.9 107.5 L355.6 107 L356.2 106.5 L357 104.1 L357.5 105.6 L358.1 109.5 L358.7 117.8 L359 112 L359.5 115.1 L360.3 114.3 L361 123.3 L361.7 116.7 L361.8 116.8 L362.6 118.1 L362.9 121.3 L363.4 121.1 L364.1 123.5 L364.7 122.6 L365.3 128.6 L365.9 130.1 L366.4 128.5 L366.6 129.5 L367.2 136.8 L367.5 127.9 L367.8 136.2 L368.4 126.3 L368.6 132.2 L369.1 132.2 L369.6 131.4 L370.4 133 L370.6 139.9 L371 136.2 L371.6 139.1 L372.3 145.3 L372.5 139.2 L372.9 137 L373.5 158 L374.1 146.8 L374.4 144.5 L374.8 138.8 L375.2 141.9 L375.4 133.7 L376 134.2 L376.6 137.4 L376.9 147.2 L377.3 143.6 L377.8 139.1 L377.9 154.8 L378.5 145.1 L379.1 156.4 L379.3 147.4 L379.8 159.1 L380.1 149.9 L380.4 150.2 L380.9 153.6 L381 169.6 L381.6 153.1 L382.3 167.3 L382.9 167.7 L383 162.9 L383.5 165.2 L383.7 165.1 L384.1 166.5 L384.4 164.3 L384.8 159 L385.1 163.1 L385.4 161.9 L385.7 154.5 L386 154.3 L386.4 149.4 L386.7 149.3 L387 157.5 L387.3 145.7 L387.6 149.7 L387.9 158.5 L388.2 152 L388.5 151.8 L388.8 149.4 L389.2 153.3 L389.4 162.7 L389.8 159.3 L390 153.7 L390.4 154.1 L390.5 169.6 L391 159 L391.7 166.1 L392.2 164.6 L392.7 161.4 L392.9 173 L393.3 162.7 L393.5 169.4 L393.8 164 L394.2 166.6 L394.3 167.5 L394.8 169.3 L395.3 170.5 L395.8 188.2 L396 170 L396.3 178.8 L396.7 171.8 L397.2 175.1 L397.7 170 L397.9 173.9 L398.2 170.7 L398.5 173.8 L399.1 165.1 L399.5 179.5 L399.8 171.1 L399.9 174 L400.4 170.6 L400.8 182.7 L401 174.5 L401.2 183.3 L401.6 179.9 L402 186.6 L402.3 181.6 L402.4 189.2 L402.8 181 L403.2 177.1 L403.6 192 L404 174.9 L404.2 175.2 L404.4 177.3 L404.8 188.9 L405.2 181.6 L405.5 185.6 L405.9 189 L406.1 181.8 L406.3 183.2 L406.6 189.5 L407 182.8 L407.4 180.6"/>
<path class="c" stroke="#1faaff" stroke-width="1.3" d="M241.4 87 L242.2 87.1 L242.9 87.1 L243.6 87.2 L244.3 87.2 L245.1 87.3 L245.8 87.3 L246.5 87.4 L247.3 87.4 L248 87.4 L248.7 87.5 L249.5 87.5 L250.2 87.5 L251 87.4 L251.8 87.4 L252.5 87.3 L253.3 87.3 L254.1 87.2 L254.8 87.1 L255.6 87 L256.4 86.9 L257.1 86.7 L257.9 86.6 L258.7 86.5 L259.4 86.2 L260.2 85.9 L261 85.6 L261.7 85.2 L262.5 84.8 L263.3 84.4 L264 84 L264.8 83.6 L265.6 83.2 L266.4 82.8 L267.1 82.5 L267.8 82.1 L268.6 81.7 L269.3 81.4 L270.1 81 L270.8 80.6 L271.5 80.3 L272.3 80 L273 79.8 L273.7 79.7 L274.5 79.5 L275.3 79.4 L276 79.3 L276.8 79.2 L277.5 79.1 L278.3 79 L279 79 L279.8 79 L280.5 79.1 L281.2 79.2 L282 79.4 L282.7 79.5 L283.5 79.7 L284.2 79.8 L284.9 80 L285.7 80.2 L286.4 80.3 L287.2 80.4 L287.9 80.5 L288.6 80.7 L289.4 80.8 L290.1 81 L290.9 81.1 L291.6 81.2 L292.3 81.3 L293.1 81.3 L293.8 81.3 L294.6 81.3 L295.4 81.3 L296.2 81.2 L297 81.2 L297.8 81.1 L298.6 81 L299.4 80.8 L300.2 80.7 L300.9 80.5 L301.7 80.2 L302.4 79.8 L303.2 79.3 L303.9 78.7 L304.7 78.2 L305.4 77.5 L306.1 76.8 L306.8 75.9 L307.6 75 L308.3 74 L309 73 L309.7 72.3 L310.4 71.6 L311.1 71 L311.8 70.4 L312.5 69.9 L313.2 69.5 L313.9 69.1 L314.6 68.8 L315.3 68.6 L316 68.4 L316.7 68.2 L317.4 67.9 L318.1 67.6 L318.7 67.1 L319.4 66.5 L320 65.8 L320.8 64.9 L321.6 63.9 L322.4 63 L323.2 62.7 L324 62.8 L324.8 63 L325.5 63.3 L326.3 63.7 L327 64.2 L327.7 64.9 L328.5 65.8 L329.2 66.8 L329.9 67.9 L330.6 69 L331.4 70.4 L332.1 72.1 L332.9 73.8 L333.7 75.4 L334.4 76.7 L335.1 78 L335.8 78.5 L336.6 78.4 L337 78.3 L337.4 78.2 L338.2 77.8 L339 77.5 L339.4 77.2 L339.8 77 L340.5 76.5 L341.3 75.9 L341.7 75.7 L342.1 75.7 L342.8 75.3 L343.5 76.7 L343.9 78.5 L344.2 80 L344.9 84 L345.6 87.2 L345.9 89.5 L346.2 91.3 L346.8 95.7 L347.5 99.1 L347.9 100 L348.2 101.9 L348.9 103.4 L349.6 104.7 L350.3 103 L351 98.1 L351.4 95.4 L351.7 95 L352.3 90.8 L352.8 91.6 L353.1 89 L353.4 87.4 L354.1 91.3 L354.7 96.1 L354.9 94.2 L355.6 94.1 L356.2 91.3 L356.3 90.7 L356.9 92.2 L357.5 97.1 L357.6 94.7 L358 96.3 L358.6 100.4 L359 94.3 L359.2 94.5 L359.7 93 L360.4 96.1 L361 88.2 L361.6 89.7 L362.2 90.2 L362.7 93.8 L362.9 96.2 L363.3 98.3 L364.1 105.8 L364.8 108 L365.3 112.3 L365.9 107.6 L366.4 111.3 L367 105 L367.5 112.1 L368.2 113 L368.5 121.2 L369.1 126 L369.6 122 L369.7 125 L370.4 127 L370.6 120.9 L371 124.6 L371.6 135.7 L372.3 123.9 L372.5 132.7 L372.9 123.2 L373.5 121.9 L374.1 130.1 L374.4 117.6 L374.8 114.2 L375.2 113.5 L375.4 120.2 L376 110.2 L376.6 114.5 L376.9 113 L377.3 124 L377.8 121.6 L377.9 116 L378.5 116.5 L379.2 122.1 L379.3 115.6 L380 119.7 L380.1 119.5 L380.7 125.4 L380.9 118.7 L381.3 137.1 L381.6 127.8 L382 123.4 L382.3 125.4 L382.6 139.6 L383 134.2 L383.3 131.9 L383.7 128.2 L384.1 138 L384.4 127.9 L384.7 135.8 L385.1 127 L385.4 136.6 L385.7 123.7 L386 137.9 L386.4 130.8 L386.7 131.7 L387 132.6 L387.3 135 L387.6 142.5 L387.9 135.3 L388.2 136 L388.5 137.3 L388.8 139.6 L389.2 148.3 L389.4 145.5 L389.8 139.6 L390 151.1 L390.4 148.3 L390.5 150.8 L391 144.2 L391.7 159.2 L392.2 141.4 L392.7 150.5 L392.9 151.3 L393.3 149 L393.5 142.4 L393.8 150.6 L394.2 148.1 L394.3 156.3 L394.8 149 L395.3 149.4 L395.8 143.7 L396 150.5 L396.3 140.3 L396.7 141.1 L397.2 141.9 L397.7 144 L397.9 148.8 L398.2 147.6 L398.5 159.1 L399.1 150.1 L399.5 150.5 L399.8 165.8 L399.9 150.8 L400.4 160.2 L400.8 155.3 L401 151.2 L401.2 153.1 L401.6 141.3 L402 142 L402.3 146.4 L402.4 145.4 L402.8 142 L403.2 158 L403.6 147.4 L404 162.4 L404.2 153.5 L404.4 157.2 L404.8 160.5 L405.2 177.8 L405.5 161.2 L405.9 165.4 L406.1 162.1 L406.3 173.5 L406.6 160.9 L407 164.4 L407.4 172.4"/>
<path class="c" stroke="#1f5fff" stroke-width="1.7" d="M241.4 89.8 L242.2 89.8 L242.9 89.8 L243.6 89.7 L244.3 89.7 L245.1 89.7 L245.8 89.7 L246.5 89.7 L247.3 89.7 L248 89.6 L248.7 89.6 L249.5 89.6 L250.2 89.5 L251 89.4 L251.8 89.3 L252.5 89.1 L253.3 88.9 L254.1 88.6 L254.8 88.4 L255.6 88.1 L256.4 87.9 L257.1 87.7 L257.9 87.5 L258.7 87.3 L259.4 87.1 L260.2 86.9 L261 86.7 L261.7 86.4 L262.5 86.2 L263.3 86 L264 85.8 L264.8 85.7 L265.6 85.5 L266.4 85.4 L267.1 85.2 L267.8 85.1 L268.6 84.9 L269.3 84.8 L270.1 84.7 L270.8 84.5 L271.5 84.4 L272.3 84.4 L273 84.3 L273.7 84.3 L274.5 84.3 L275.3 84.4 L276 84.6 L276.8 84.7 L277.5 84.9 L278.3 85.1 L279 85.4 L279.8 85.6 L280.5 85.9 L281.2 86.2 L282 86.6 L282.7 87 L283.5 87.4 L284.2 87.8 L284.9 88.1 L285.7 88.4 L286.4 88.7 L287.2 89 L287.9 89.2 L288.6 89.4 L289.4 89.6 L290.1 89.8 L290.9 90 L291.6 90.2 L292.3 90.4 L293.1 90.6 L293.8 90.8 L294.6 91.1 L295.4 91.4 L296.2 91.7 L297 92 L297.8 92.2 L298.6 92.5 L299.4 92.7 L300.2 93 L300.9 93.2 L301.7 93.4 L302.4 93.6 L303.2 93.7 L303.9 93.9 L304.7 94 L305.4 94 L306.1 93.8 L306.8 93.4 L307.6 92.9 L308.3 92.3 L309 91.9 L309.7 91.7 L310.5 91.8 L311.3 92.2 L312 92.8 L312.8 93.4 L313.5 94 L314.2 94.9 L314.9 95.9 L315.7 96.9 L316.4 97.9 L317.1 98.7 L317.7 99.3 L318.3 100 L319 100.6 L319.6 100.8 L320 100.7 L320.6 100.7 L321.3 100.7 L321.9 100.7 L322.5 100.7 L323.1 101.5 L323.7 103.2 L324.2 104.9 L324.9 106.9 L325.6 109 L326.3 111.3 L327 114 L327.7 116.9 L328.5 119.7 L329.2 122.8 L329.9 125.8 L330.6 127.1 L331.3 127.1 L332.1 127 L332.8 126.9 L333.5 127.3 L334.2 128.4 L334.9 129.6 L335.6 130.7 L336.3 131.4 L337 132 L337.7 132.7 L338.5 133.5 L339.2 134.4 L339.4 134.7 L339.9 135.4 L340.6 136.6 L341.3 138.1 L341.7 140 L341.9 140.4 L342.5 143.9 L343.1 147.5 L343.8 152.5 L343.9 153.9 L344.4 158.2 L345 160.8 L345.8 158.7 L345.9 157.9 L346.5 155.2 L347.2 148.6 L347.8 141.8 L348.5 137.1 L349.1 131.5 L349.7 130.4 L350.3 126 L351 126.6 L351.4 123.5 L351.6 124.8 L352.2 123 L352.8 124.9 L353.1 123.4 L353.5 122.9 L354.1 122.9 L354.7 128.1 L355.4 128.2 L356 130.9 L356.2 131.6 L356.6 133.9 L357.2 135.5 L357.6 136 L357.9 138.3 L358.5 139.3 L359 146.7 L359.7 143.9 L360.4 153.9 L361 149.3 L361.6 148.6 L362.3 142.2 L362.9 143.1 L363.1 142.8 L363.8 145.8 L364.1 151.4 L364.6 146.2 L365.3 139.1 L366 149.5 L366.4 141.4 L366.6 146.8 L367.3 147 L367.5 139.6 L367.9 138.4 L368.6 147.5 L369.4 140.6 L369.6 139.8 L370.2 148.5 L370.6 144.6 L370.9 154.8 L371.6 142.1 L372.3 145.1 L372.5 148.5 L372.9 141.6 L373.5 134.8 L374.1 150.5 L374.4 134.1 L374.8 143 L375.2 149.9 L375.4 145.9 L376 150.2 L376.6 146.2 L376.9 143.2 L377.3 149.8 L377.8 145.6 L377.9 136.8 L378.5 132.3 L379.2 141.6 L379.3 128.7 L380 149.4 L380.1 139 L380.7 144.5 L380.9 155 L381.3 158.4 L381.6 152.6 L382 169.6 L382.3 163.4 L382.6 161.8 L383 168.1 L383.3 157.5 L383.7 155.9 L384.1 160.9 L384.4 157.8 L384.7 157.8 L385.1 167.8 L385.4 156.7 L385.7 163.1 L386.1 179.2 L386.4 166.8 L386.7 184.5 L387 172.3 L387.5 168.3 L387.6 170.5 L388.2 162 L388.8 163.1 L389 153.2 L389.4 155.3 L389.7 157.1 L390 163.7 L390.4 165.6 L390.5 164.2 L391 165 L391.7 158.8 L392.2 164.9 L392.7 153.3 L392.9 163.3 L393.3 152.4 L393.5 147.1 L393.8 145.9 L394.2 154.3 L394.3 146.9 L394.8 141.9 L395.3 148.8 L395.8 147.4 L396 155.1 L396.3 157.2 L396.7 164.4 L397.2 174.9 L397.7 173.4 L398 177.4 L398.2 170.7 L398.6 173.7 L398.7 168.8 L399.1 157.5 L399.5 157.4 L399.9 146.7 L400.2 154.1 L400.4 146.6 L400.8 140.6 L401 149.4 L401.2 148.6 L401.6 150.5 L402 159.2 L402.3 161.6 L402.4 165.6 L402.8 163.3 L403.2 167.5 L403.6 172.8 L404 167.5 L404.2 173.8 L404.4 176.8 L404.8 171.9 L405.2 178.3 L405.5 176.5 L405.9 171.9 L406.1 173.4 L406.3 175.4 L406.6 175 L407 180.5 L407.4 176.4"/>
</g>
<path class="t" d="M243 187.7v-2.7M243 23.8v2.7M253.2 187.7v-2.7M253.2 23.8v2.7M261.2 187.7v-2.7M261.2 23.8v2.7M267.7 187.7v-2.7M267.7 23.8v2.7M273.2 187.7v-2.7M273.2 23.8v2.7M277.9 187.7v-2.7M277.9 23.8v2.7M282.1 187.7v-2.7M282.1 23.8v2.7M285.9 187.7v-5M285.9 23.8v5M310.6 187.7v-2.7M310.6 23.8v2.7M325 187.7v-2.7M325 23.8v2.7M335.2 187.7v-2.7M335.2 23.8v2.7M343.2 187.7v-2.7M343.2 23.8v2.7M349.7 187.7v-2.7M349.7 23.8v2.7M355.2 187.7v-2.7M355.2 23.8v2.7M359.9 187.7v-2.7M359.9 23.8v2.7M364.1 187.7v-2.7M364.1 23.8v2.7M367.9 187.7v-5M367.9 23.8v5M392.6 187.7v-2.7M392.6 23.8v2.7M407 187.7v-2.7M407 23.8v2.7M243 187.7h5M407 187.7h-5M243 171.3h2.7M407 171.3h-2.7M243 161.6h2.7M407 161.6h-2.7M243 154.8h2.7M407 154.8h-2.7M243 149.5h2.7M407 149.5h-2.7M243 145.2h2.7M407 145.2h-2.7M243 141.5h2.7M407 141.5h-2.7M243 138.4h2.7M407 138.4h-2.7M243 135.6h2.7M407 135.6h-2.7M243 133.1h5M407 133.1h-5M243 116.6h2.7M407 116.6h-2.7M243 107h2.7M407 107h-2.7M243 100.2h2.7M407 100.2h-2.7M243 94.9h2.7M407 94.9h-2.7M243 90.6h2.7M407 90.6h-2.7M243 86.9h2.7M407 86.9h-2.7M243 83.7h2.7M407 83.7h-2.7M243 80.9h2.7M407 80.9h-2.7M243 78.4h5M407 78.4h-5M243 62h2.7M407 62h-2.7M243 52.4h2.7M407 52.4h-2.7M243 45.5h2.7M407 45.5h-2.7M243 40.2h2.7M407 40.2h-2.7M243 35.9h2.7M407 35.9h-2.7M243 32.3h2.7M407 32.3h-2.7M243 29.1h2.7M407 29.1h-2.7M243 26.3h2.7M407 26.3h-2.7"/>
<rect class="b" x="243" y="23.8" width="164" height="163.9"/>
<text x="237.2" y="27.3" font-size="10" text-anchor="end">10<tspan font-size="6.6" dy="-3.8">3</tspan></text>
<text x="237.2" y="81.9" font-size="10" text-anchor="end">10<tspan font-size="6.6" dy="-3.8">2</tspan></text>
<text x="237.2" y="136.6" font-size="10" text-anchor="end">10<tspan font-size="6.6" dy="-3.8">1</tspan></text>
<text x="237.2" y="191.2" font-size="10" text-anchor="end">10<tspan font-size="6.6" dy="-3.8">0</tspan></text>
<text x="286.2" y="200.6" font-size="10" text-anchor="middle">10<tspan font-size="6.6" dy="-3.8">−1</tspan></text>
<text x="368.2" y="200.6" font-size="10" text-anchor="middle">10<tspan font-size="6.6" dy="-3.8">0</tspan></text>
<text x="324.6" y="213.2" font-size="9.65" text-anchor="middle">Frequency [Hz]</text>
<text x="325" y="12.2" font-size="15.2" text-anchor="middle">EW</text>
</g>
<g id="p3">
<clipPath id="cp3"><rect x="448.3" y="23.8" width="164" height="163.9"/></clipPath>
<path class="g" d="M491.2 23.8V187.7"/>
<path class="g" d="M573.2 23.8V187.7"/>
<path class="g" d="M448.3 78.4H612.3"/>
<path class="g" d="M448.3 133.1H612.3"/>
<g clip-path="url(#cp3)">
<path class="c" stroke="#aaaaaa" stroke-width="1.15" d="M446.4 70.9 L447 70.8 L447.5 70.8 L448.1 70.7 L448.9 70.6 L449.6 70.5 L450.4 70.3 L451.2 70.2 L452 70.1 L452.7 69.9 L453.5 69.8 L454.3 69.7 L455 69.6 L455.8 69.5 L456.6 69.4 L457.3 69.4 L458.1 69.3 L458.9 69.3 L459.6 69.2 L460.4 69.2 L461.2 69.1 L461.9 69.1 L462.7 69.1 L463.5 69 L464.2 69 L465 69 L465.8 69 L466.6 69.1 L467.3 69.2 L468.1 69.4 L468.9 69.6 L469.6 69.8 L470.4 70.1 L471.2 70.3 L471.9 70.6 L472.7 70.9 L473.5 71.1 L474.3 71.4 L475.1 71.8 L475.8 72.2 L476.6 72.6 L477.4 73.1 L478.2 73.5 L479 73.9 L479.8 74.3 L480.6 74.7 L481.3 75.1 L482.1 75.5 L482.8 75.8 L483.6 76.1 L484.3 76.3 L485.1 76.4 L485.8 76.3 L486.6 76 L487.4 75.5 L488.1 74.9 L488.9 74.3 L489.6 73.7 L490.4 73.2 L491.1 72.7 L491.9 72.2 L492.6 71.6 L493.4 71 L494.1 70.5 L494.9 70.2 L495.7 70.1 L496.4 70.1 L497.1 70.2 L497.8 70.4 L498.5 70.6 L499.2 70.8 L499.9 71.1 L500.6 71.6 L501.3 72.3 L502 73.1 L502.7 74.2 L503.4 75.3 L504.1 76.4 L504.8 77.7 L505.5 79.1 L506.2 80.7 L506.9 82.4 L507.6 84.2 L508.3 85.9 L509.1 88.1 L509.9 90.5 L510.7 92.8 L511.5 94.4 L512.1 95.3 L512.8 96.1 L513.4 96.7 L514 96.9 L514.7 96.5 L515.4 95.4 L516.1 93.9 L516.8 92.3 L517.5 90 L518.2 87.1 L518.8 84.1 L519.5 81.7 L520.2 79.9 L520.8 78.2 L521.4 76.9 L522.1 76.4 L522.7 76.5 L523.3 76.7 L524 77 L524.6 77.5 L525.3 78.6 L526 80.7 L526.7 83.3 L527.3 85.9 L528.1 89.3 L528.9 93.1 L529.7 97.1 L530.5 100.7 L531.2 103.7 L532 106.3 L532.7 108.3 L533.4 110.1 L534.1 111.2 L534.8 111.9 L535.5 112.4 L536.2 112.6 L536.9 112.4 L537.6 112.1 L538.3 111.9 L539 113.1 L539.7 115.6 L540.4 117.5 L541.1 118.5 L541.8 119.3 L542.3 119.5 L542.5 119.6 L543.2 119.3 L543.9 118.6 L544.6 118.2 L545.4 118.5 L546.1 119 L546.8 119.6 L547 120 L547.5 120.5 L548.2 121.7 L548.9 123.3 L549.2 124 L549.6 125.3 L550.3 128.1 L551 130.3 L551.2 130.5 L551.7 131.4 L552.4 132.4 L553.1 134 L553.5 128.5 L554 124.8 L554.7 125.3 L555 126 L555.3 125.7 L556 126.2 L556.6 127.3 L557.3 128.8 L557.9 128.1 L558.4 129.4 L558.6 128.5 L559.3 131.2 L559.9 129.9 L560.6 131.3 L561.2 131.2 L561.5 132.4 L561.9 133.5 L562.5 133.8 L562.9 136.2 L563.2 134.9 L563.9 138.5 L564.3 134.6 L564.5 135.5 L565.2 135 L565.7 139.1 L565.8 135.3 L566.5 132.8 L567 137.9 L567.1 136.3 L567.8 135.8 L568.2 135.1 L568.5 135.1 L569.1 143.8 L569.4 139.8 L569.8 139.5 L570.4 150.9 L570.6 143.2 L571 148.2 L571.7 146.3 L572.3 151 L572.8 155.4 L573.5 152.2 L573.9 150 L574.1 151.7 L574.7 159 L574.9 153.9 L575.4 153.6 L575.9 149.3 L576.6 157.3 L576.9 147.5 L577.2 147.5 L577.8 144.1 L578.4 157.7 L578.8 144.9 L579.1 148.6 L579.7 154.7 L580.3 161.4 L580.5 160.3 L580.9 153.6 L581.4 159.3 L582.1 167.4 L582.8 159.7 L583.1 159 L583.4 172.2 L583.9 165.4 L584 167.8 L584.6 174.2 L585.2 178.3 L585.4 181 L585.8 176.4 L586.2 178.2 L586.3 170.6 L586.9 170 L587.5 182.6 L587.6 169.1 L588.1 169.7 L588.3 162.9 L588.7 162.9 L589 160.7 L589.3 166.1 L589.7 164.7 L589.9 157.9 L590.4 167.4 L590.6 158.9 L591 156.2 L591.2 154.1 L591.7 154.1 L591.8 160.9 L592.3 162.8 L592.4 152.4 L592.9 155.4 L593 165.8 L593.5 159.1 L593.6 160.3 L594.1 155.2 L594.3 169.3 L594.7 157.5 L594.9 163.2 L595.3 160.6 L595.5 161.4 L595.8 172.9 L596.1 162.4 L596.4 173.1 L596.7 162.4 L597 167.8 L597.3 165.5 L597.5 168.7 L598 172.8 L598.6 166.9 L599.1 176.2 L599.6 165.6 L599.8 164.5 L600.1 164.8 L600.4 175.3 L600.6 163 L601 161.8 L601.6 158.8 L602.1 150.6 L602.2 157.7 L602.5 146.9 L602.7 151 L603 155.2 L603.3 146.8 L603.5 153.8 L603.8 144.9 L604.4 162.8 L604.8 151 L604.9 150.9 L605.2 153.4 L605.5 151.4 L605.7 145.9 L606 152.2 L606.5 153.8 L606.9 144.1 L607.1 153.7 L607.3 147.4 L607.7 148.8 L608.1 163.2 L608.5 154.8 L608.8 155.6 L608.9 164 L609.3 169.5 L609.7 164.5 L609.9 169.4 L610.1 170.7 L610.5 175.6 L610.8 173 L611.1 169.1 L611.6 170.4 L611.7 178.5 L611.9 168.6 L612.3 183.5 L612.7 176.3"/>
<path class="c" stroke="#2bff2b" stroke-width="1.3" d="M446.4 72.2 L447.2 72.1 L448 71.9 L448.8 71.8 L449.5 71.6 L450.3 71.5 L451.1 71.3 L451.9 71.2 L452.7 71.1 L453.4 70.9 L454.2 70.8 L455 70.8 L455.8 70.7 L456.6 70.7 L457.3 70.7 L458.1 70.7 L458.9 70.7 L459.6 70.7 L460.4 70.7 L461.2 70.7 L461.9 70.7 L462.7 70.7 L463.5 70.7 L464.2 70.7 L465 70.7 L465.8 70.7 L466.6 70.8 L467.3 70.8 L468.1 70.9 L468.9 71.1 L469.6 71.2 L470.4 71.4 L471.2 71.6 L471.9 71.8 L472.7 72 L473.5 72.2 L474.3 72.5 L475.1 73 L475.8 73.6 L476.6 74.3 L477.4 75 L478.2 75.6 L479 76.1 L479.8 76.4 L480.6 76.6 L481.3 76.9 L482.1 77 L482.8 77.2 L483.6 77.4 L484.3 77.4 L485.1 77.5 L485.8 77.3 L486.6 76.8 L487.4 76.1 L488.1 75.2 L488.9 74.3 L489.6 73.5 L490.4 72.8 L491.1 72.2 L491.9 71.5 L492.6 70.9 L493.4 70.3 L494.1 69.8 L494.9 69.3 L495.7 69 L496.4 68.8 L497.2 68.6 L498 68.4 L498.8 68.4 L499.5 68.5 L500.2 68.7 L500.9 68.9 L501.6 69.3 L502.3 69.7 L503 70.1 L503.8 70.5 L504.6 71.1 L505.3 71.7 L506.1 72.3 L506.8 73 L507.6 73.7 L508.3 74.3 L509.1 74.9 L509.8 75.6 L510.6 76.3 L511.3 76.9 L512.1 77.5 L512.9 78.1 L513.6 78.5 L514.4 78.9 L515.1 79.2 L515.9 79.4 L516.6 79.6 L517.4 79.9 L518.1 80.2 L518.9 80.6 L519.6 81.2 L520.3 82 L521 82.9 L521.7 83.9 L522.4 84.9 L523.1 85.9 L523.8 86.8 L524.5 87.7 L525.2 88.8 L525.9 90.1 L526.5 92.3 L527.1 95.4 L527.8 98.5 L528.4 100.7 L529.1 102.3 L529.8 103.8 L530.5 105 L531.3 106.1 L532 107 L532.7 107.7 L533.4 108.2 L534.1 108.7 L534.8 109.1 L535.5 109.5 L536.2 109.9 L536.9 110.5 L537.6 112.6 L538.3 116.1 L539 121 L539.7 127.4 L540.3 134.4 L540.8 141.5 L541.3 147 L541.8 149.9 L542.3 147 L542.8 141.5 L543.4 136.2 L543.9 131.6 L544.6 127.7 L545.4 125.3 L546.1 124.2 L546.8 123.5 L547 123.4 L547.5 123.1 L548.2 123.4 L548.9 123.7 L549.2 124.2 L549.6 124.4 L550.3 127.2 L551 128.6 L551.2 128.6 L551.7 128 L552.4 126.6 L553.1 125.1 L553.5 124.5 L554 123.8 L554.6 123.6 L555 125.2 L555.2 125.5 L555.8 126.8 L556.5 128.4 L556.7 128.8 L557.1 127.7 L557.7 127.1 L558.3 125.9 L558.9 128.5 L559.6 126.2 L560 129 L560.2 130 L560.9 131.1 L561.5 134 L562.2 134.2 L562.8 135 L563.4 133.9 L564.1 135 L564.3 131.7 L564.7 132.6 L565.3 130.4 L565.7 133.6 L565.9 129 L566.5 129.8 L567 128.8 L567.1 135 L567.8 129.4 L568.2 129.9 L568.4 133 L569 132.5 L569.4 136.5 L569.6 133.9 L570.2 140.9 L570.6 137.7 L571.3 140.1 L571.7 135.8 L572.3 132.4 L572.8 144 L573.4 133.5 L573.9 137.5 L574.5 137.6 L574.9 141.1 L575.1 143.3 L575.6 135.7 L575.9 131.2 L576.2 135.6 L576.8 132.6 L576.9 128.8 L577.3 128.5 L577.8 132.4 L578 131.2 L578.6 132.7 L578.8 143.3 L579.2 136.9 L579.7 152.7 L580.3 148.1 L580.5 159.7 L580.8 154.2 L581.4 154.7 L581.9 158.9 L582.2 167.6 L582.5 156.8 L583 156.4 L583.6 140.4 L583.9 142 L584.1 154.7 L584.6 143.1 L585.2 140.5 L585.4 145.7 L585.8 137.6 L586.2 138.4 L586.3 132.3 L586.9 134.4 L587.4 140.9 L587.6 133.8 L588 146.1 L588.3 139.8 L588.5 142.9 L589 145.6 L589.6 137.4 L590.1 138.3 L590.4 134.8 L590.7 131.4 L591 128.7 L591.2 134 L591.7 124.9 L591.8 128.8 L592.3 128.9 L592.4 134.3 L592.9 138.2 L593.1 143.9 L593.5 135.9 L593.7 144.5 L594.1 132.5 L594.7 145.6 L595.3 136.3 L595.8 137.8 L596.4 147.9 L596.9 147.9 L597.5 163.1 L598 155 L598.6 151.6 L599.1 153.2 L599.6 152.7 L600.1 150.4 L600.3 163.4 L600.6 156.5 L601 155.4 L601.6 163.9 L602.1 167.7 L602.2 170.7 L602.5 175.6 L602.7 167 L603 168.3 L603.3 186 L603.5 169.6 L603.8 182.1 L604.4 172.5 L604.8 184.5 L604.9 176.2 L605.2 175.9 L605.5 182.9 L605.7 180.4 L606 191.3 L606.5 181.4 L606.9 186.7 L607.1 179 L607.3 182.3 L607.7 177.7 L608.1 175.8 L608.5 172.3 L608.8 180.5 L608.9 172.4 L609.3 194 L609.7 179.9 L609.9 175.9 L610.1 175.8 L610.5 193.8 L610.8 172.5 L611.1 179.7 L611.6 174.9 L611.7 170.3 L611.9 183.2 L612.3 167 L612.7 170.8"/>
<path class="c" stroke="#ff2ba0" stroke-width="1.3" d="M446.4 74.9 L447.2 74.8 L448 74.6 L448.8 74.4 L449.5 74.3 L450.3 74.1 L451.1 73.9 L451.9 73.7 L452.7 73.6 L453.4 73.4 L454.2 73.3 L455 73.1 L455.8 73 L456.6 72.8 L457.3 72.7 L458.1 72.5 L458.9 72.4 L459.6 72.2 L460.4 72.1 L461.2 71.9 L461.9 71.8 L462.7 71.7 L463.5 71.6 L464.2 71.6 L465 71.6 L465.8 71.6 L466.6 71.6 L467.3 71.6 L468.1 71.6 L468.9 71.6 L469.6 71.6 L470.4 71.6 L471.2 71.6 L471.9 71.6 L472.7 71.6 L473.5 71.6 L474.3 71.6 L475.1 71.8 L475.8 72.1 L476.6 72.5 L477.4 72.9 L478.2 73.4 L479 73.8 L479.8 74.3 L480.6 74.8 L481.3 75.3 L482.1 75.9 L482.8 76.5 L483.6 77.2 L484.3 77.8 L485.1 78.5 L485.8 79.3 L486.5 80.2 L487.2 81.1 L487.9 81.9 L488.6 82.5 L489.3 82.7 L490 82.7 L490.7 82.6 L491.4 82.4 L492.1 82.2 L492.8 82 L493.5 81.7 L494.3 81.3 L495 80.6 L495.8 79.8 L496.6 78.9 L497.3 78.2 L498.1 77.7 L498.8 77.5 L499.5 77.5 L500.2 77.6 L500.9 77.8 L501.6 78 L502.3 78.2 L503 78.5 L503.8 78.9 L504.5 79.6 L505.2 80.3 L505.9 81.2 L506.6 82 L507.3 82.7 L508 83.5 L508.7 84.3 L509.4 85.2 L510.1 85.9 L510.8 86.6 L511.5 87 L512.2 87.2 L512.9 87.5 L513.6 87.7 L514.3 87.9 L515 88 L515.7 88 L516.4 87.9 L517.1 87.5 L517.8 87 L518.5 86.5 L519.2 86.1 L519.9 85.9 L520.7 86 L521.4 86.1 L522.1 86.3 L522.8 86.5 L523.5 86.8 L524.2 87 L525 87.2 L525.8 87.4 L526.6 87.6 L527.3 88 L528 88.9 L528.8 90.5 L529.5 92.3 L530.2 94.9 L531 98.3 L531.8 101.8 L532.6 104.5 L533.4 105.6 L534.1 105.4 L534.8 105 L535.5 104.9 L536.2 105.2 L536.9 105.9 L537.6 107 L538.3 108.9 L539 111.2 L539.7 113.3 L540.4 115.3 L541.1 116.1 L541.8 116.1 L542.3 116.1 L542.5 116.1 L543.2 116.1 L543.9 116.4 L544.6 117 L545.4 117.5 L546.1 117.9 L546.8 118.1 L547 118.2 L547.5 118.3 L548.2 118.1 L548.9 117.6 L549.2 117.8 L549.6 117.6 L550.3 118.2 L551 120.8 L551.2 120.6 L551.7 121.5 L552.4 123.5 L553.1 122.7 L553.5 122.4 L554 122.1 L554.6 120 L555 119.1 L555.2 118.3 L555.8 117.9 L556.5 116.2 L556.7 117.5 L557.1 117.3 L557.7 117.1 L558.3 120 L558.9 120.3 L559.5 121.7 L560 122.5 L560.2 123.6 L560.8 128.2 L561.4 130.9 L561.9 133 L562.5 135.5 L562.9 138.3 L563.6 141.4 L564.1 141.8 L564.3 143.7 L564.7 146.6 L565.2 140.7 L565.7 139.1 L566.3 133.2 L566.9 133.7 L567.4 131.3 L568 124.2 L568.2 130 L568.5 123.9 L569.1 122.4 L569.4 121.3 L569.6 121.1 L570.2 126 L570.6 129.2 L571.3 132.6 L571.7 133.5 L572.3 133.3 L572.8 141.1 L573.4 145.8 L573.9 151.2 L574.5 146.7 L574.9 148.3 L575.1 158.8 L575.6 146.5 L575.9 143.3 L576.2 144.2 L576.7 139 L576.9 138.7 L577.3 142.3 L577.8 147.3 L578.4 138.2 L578.8 146.3 L578.9 141.8 L579.5 153.7 L579.7 148.5 L580 146.8 L580.5 165 L581.1 150.3 L581.4 161.3 L581.7 154.3 L582.2 171.5 L582.8 157 L583.1 174 L583.3 168.9 L583.8 168.1 L584.4 176.7 L584.6 173.1 L584.9 168.1 L585.4 170 L586 160.9 L586.2 165.2 L586.6 162 L586.9 156.5 L587.1 157 L587.6 145.7 L588.2 151.8 L588.8 158.7 L589 155.6 L589.3 153.5 L589.7 152.3 L589.9 154.6 L590.4 147 L591 141.5 L591.5 138.8 L591.7 145.5 L592.1 139.8 L592.3 142.1 L592.6 136.6 L592.9 154.4 L593.2 137.4 L593.5 153.1 L593.7 147 L594.1 141.3 L594.3 148.6 L594.7 148.9 L595.3 148.1 L595.8 167.6 L596.4 153.8 L597 151.9 L597.5 147.5 L598 149.3 L598.6 146.3 L599.1 139.5 L599.6 144.8 L599.7 146.5 L600.1 156.4 L600.3 144.1 L600.6 151.4 L600.8 161.8 L601.1 149.5 L601.4 153 L601.6 171 L601.9 161.2 L602.1 156.2 L602.5 163.1 L603 168.4 L603.5 157.1 L603.9 155.9 L604.1 166.3 L604.4 156.9 L604.7 159.3 L604.8 164.1 L605.2 165.3 L605.7 159.7 L606.1 167.2 L606.3 171.9 L606.5 173.3 L606.9 169.3 L607.3 167.3 L607.7 167.6 L607.9 185 L608.1 168.2 L608.5 174.7 L608.9 175.3 L609.3 178.1 L609.6 183.3 L609.7 178.1 L610.1 177.7 L610.5 187.5 L610.7 185.3 L610.8 184.1 L611.2 176.3 L611.6 176.5 L611.8 182.1 L611.9 172.1 L612.3 182.2 L612.7 178.2"/>
<path class="c" stroke="#1faaff" stroke-width="1.3" d="M446.4 77.5 L447.2 77.4 L448 77.4 L448.8 77.4 L449.5 77.3 L450.3 77.3 L451.1 77.2 L451.9 77.2 L452.7 77.1 L453.4 77.1 L454.2 77.1 L455 77.1 L455.8 77 L456.6 77 L457.3 77 L458.1 77.1 L458.9 77.1 L459.6 77.1 L460.4 77.1 L461.2 77.2 L461.9 77.2 L462.7 77.3 L463.5 77.3 L464.2 77.4 L465 77.5 L465.8 77.6 L466.6 77.8 L467.3 78 L468.1 78.4 L468.9 78.7 L469.6 79.1 L470.4 79.5 L471.2 79.8 L471.9 80.1 L472.7 80.4 L473.5 80.6 L474.3 80.8 L475.1 81 L475.8 81.2 L476.6 81.3 L477.4 81.5 L478.2 81.6 L479 81.7 L479.8 81.7 L480.6 81.6 L481.3 81.3 L482.1 80.8 L482.8 80.3 L483.6 79.7 L484.3 79.1 L485.1 78.5 L485.8 78 L486.5 77.3 L487.2 76.6 L487.9 76 L488.6 75.4 L489.3 74.9 L490 74.5 L490.7 74.2 L491.4 73.8 L492.1 73.5 L492.8 73.3 L493.5 73.2 L494.2 73.3 L494.9 73.4 L495.7 73.5 L496.4 73.8 L497.1 74 L497.8 74.3 L498.5 74.8 L499.2 75.7 L499.9 76.8 L500.6 78.1 L501.3 79.4 L502 80.6 L502.7 81.8 L503.4 83.2 L504.1 84.5 L504.8 85.8 L505.5 87 L506.2 88 L507 89 L507.7 89.8 L508.5 90.6 L509.2 91.4 L510 92.1 L510.7 92.7 L511.5 93.3 L512.3 93.9 L513 94.4 L513.8 94.9 L514.5 95.4 L515.3 95.8 L516 96.2 L516.8 96.5 L517.5 96.7 L518.2 96.8 L518.9 96.9 L519.6 97.1 L520.3 97.3 L521 97.5 L521.6 98.1 L522.2 99 L522.8 99.9 L523.5 101 L524.2 102.3 L524.9 103.5 L525.6 104.9 L526.3 106.1 L527 107.2 L527.7 108.6 L528.5 110.5 L529.2 114.3 L529.9 118.9 L530.6 123.3 L531.3 126.7 L532 128.7 L532.7 130.3 L533.4 130.9 L534.1 130.3 L534.8 128.9 L535.5 127.4 L536.2 126.1 L536.9 124.7 L537.6 123.2 L538.3 121.5 L539 119.7 L539.7 118.2 L540.4 117.1 L541.1 116.1 L541.8 115.4 L542.3 115.2 L542.5 115.1 L543.2 114.8 L543.9 114.7 L544.6 115.8 L545.4 116.9 L546.1 116.7 L546.8 116.5 L547 116.3 L547.5 116.1 L548.1 115.4 L548.7 114.7 L549.2 113.9 L549.8 116 L550.3 118.1 L551 121 L551.2 121.7 L551.7 122.9 L552.4 125 L553.1 124.9 L553.5 127 L554 127 L554.5 126.9 L555 125.8 L555.6 124.5 L556.2 123.8 L556.7 122 L557.3 122.5 L557.8 121.3 L558.4 123.6 L558.9 126 L559.5 125.6 L560 129.5 L560.6 129.4 L561.1 127.7 L561.5 127.3 L561.7 127.4 L562.2 126.3 L562.8 126.9 L562.9 129 L563.3 129.9 L563.9 134.1 L564.3 132.9 L564.5 132.8 L565.1 133.4 L565.7 128.8 L566.3 125.9 L566.9 125.2 L567.4 132.1 L568 122 L568.2 127.7 L568.5 127.8 L569.1 127.8 L569.4 125.8 L569.6 128 L570.2 132.3 L570.6 141.1 L571.3 132.7 L571.7 134.9 L572.3 139.1 L572.8 131.7 L573.4 132.2 L573.9 132 L574.5 135.4 L574.9 148 L575.1 135.3 L575.6 151.1 L575.9 141.2 L576.2 140.4 L576.7 142.8 L576.9 138.3 L577.3 134.4 L577.8 133.3 L578.4 134.6 L578.8 145.9 L578.9 133.8 L579.5 129.6 L579.7 135 L580 143 L580.5 144.6 L581.1 139.3 L581.4 149.1 L581.7 136.6 L582.2 135.2 L582.8 141.7 L583.1 136.2 L583.3 135.5 L583.8 127.2 L584.4 142.6 L584.6 134.7 L584.9 129.3 L585.4 137.4 L586 140 L586.2 149.1 L586.6 147 L586.9 149.2 L587.1 151.3 L587.6 167.8 L588.3 150.8 L588.8 143.8 L589 142.4 L589.5 145.9 L589.7 133.7 L590.1 140 L590.4 137.1 L590.7 137.8 L591 138.8 L591.2 148 L591.7 150.5 L591.8 150.8 L592.3 147 L592.9 158.9 L593.4 151.3 L594.1 148.4 L594.7 149.6 L595.3 145.9 L595.8 152.3 L596.4 161.9 L597 154.3 L597.5 166 L598 158.7 L598.6 164.8 L599.1 164.2 L599.6 172.5 L599.7 159.8 L600.1 157.7 L600.3 159.7 L600.6 167 L600.8 152.4 L601.1 167.9 L601.4 154.3 L601.6 153.6 L601.9 145.7 L602.1 154.4 L602.5 143.1 L603 153.1 L603.5 156.2 L603.9 155.2 L604.1 166.8 L604.4 161.8 L604.7 167.3 L605.2 182 L605.7 167.7 L605.9 172.7 L606.1 171.3 L606.5 156.4 L606.9 155.3 L607.2 153 L607.7 159.3 L607.9 152 L608.1 150.9 L608.5 160.7 L608.9 169.3 L609.3 165.2 L609.6 158.2 L610.1 157.6 L610.5 160.3 L610.8 164.9 L611.2 164.7 L611.6 164.2 L611.9 169.7 L612.3 163.9 L612.7 180.8"/>
<path class="c" stroke="#1f5fff" stroke-width="1.7" d="M446.4 77 L447.2 77 L448 77 L448.8 77 L449.5 77 L450.3 76.9 L451.1 76.9 L451.9 76.9 L452.7 76.9 L453.4 76.9 L454.2 76.9 L455 76.8 L455.8 76.8 L456.6 76.8 L457.3 76.8 L458.1 76.9 L458.9 76.9 L459.6 76.9 L460.4 77 L461.2 77.1 L461.9 77.1 L462.7 77.2 L463.5 77.3 L464.2 77.4 L465 77.5 L465.8 77.6 L466.6 77.8 L467.3 78 L468.1 78.2 L468.9 78.5 L469.6 78.7 L470.4 79 L471.2 79.3 L471.9 79.6 L472.7 79.8 L473.5 80 L474.3 80.2 L475.1 80.4 L475.8 80.6 L476.6 80.8 L477.4 81 L478.2 81.1 L479 81.2 L479.8 81.3 L480.6 81.1 L481.3 80.6 L482.1 79.8 L482.8 79 L483.6 78.1 L484.3 77.2 L485.1 76.4 L485.8 75.8 L486.5 75 L487.2 74.4 L487.9 73.7 L488.6 73.2 L489.3 72.8 L490 72.6 L490.7 72.3 L491.4 72.1 L492.1 71.9 L492.8 71.8 L493.5 71.8 L494.2 71.9 L494.9 72.2 L495.7 72.6 L496.4 73.1 L497.1 73.7 L497.8 74.3 L498.5 74.9 L499.2 75.7 L499.9 76.6 L500.6 77.6 L501.3 78.6 L502 79.6 L502.7 80.7 L503.4 82 L504.1 83.4 L504.8 84.7 L505.5 85.9 L506.2 87 L507 87.9 L507.7 88.8 L508.5 89.7 L509.2 90.5 L510 91.2 L510.7 91.8 L511.5 92.3 L512.3 92.7 L513 93 L513.8 93.3 L514.5 93.6 L515.3 93.9 L516 94.1 L516.8 94.4 L517.6 94.6 L518.4 94.8 L519.2 94.9 L519.9 95.2 L520.7 95.6 L521.4 96.3 L522.1 97 L522.8 97.8 L523.5 98.7 L524.2 99.7 L524.9 100.9 L525.6 102 L526.3 103.3 L527 104.6 L527.7 106 L528.5 107.7 L529.2 109.7 L529.9 112.1 L530.6 114.7 L531.3 117.7 L532 121.1 L532.7 124.6 L533.4 128.4 L534.1 131.6 L534.8 133.9 L535.5 135.8 L536.2 136.5 L536.9 134.6 L537.6 131.6 L538.3 129.7 L539 128 L539.7 126.7 L540.4 125.7 L541.1 124.9 L541.8 124.6 L542.3 125.3 L542.5 125.7 L543.2 128 L543.9 130.2 L544.6 132 L545.4 133 L546.1 132 L546.8 130.2 L547 129.4 L547.5 128 L548.2 126.7 L548.9 129 L549.2 131 L549.6 133.1 L550.3 137.1 L551 139.1 L551.2 139.1 L551.7 137.8 L552.4 136.5 L553 134.2 L553.2 133.8 L553.5 132.7 L554 131.6 L554.6 133 L555 133 L555.2 133 L555.8 135.9 L556.5 138.9 L556.7 138.7 L557 140.2 L557.6 144.2 L558.1 145.4 L558.4 147.4 L558.7 149.1 L559.2 152.2 L559.8 152.2 L560 152 L560.3 149.4 L560.9 143.4 L561.5 148.3 L562.2 149.7 L562.8 150.8 L562.9 149.6 L563.3 146.6 L563.9 147 L564.3 149.3 L565 147.9 L565.5 153.8 L565.7 156.7 L566 155.5 L566.6 155.2 L567 156.8 L567.1 158.2 L567.7 165.8 L568.2 164.6 L568.8 160.4 L569.3 161.5 L569.9 161.5 L570.4 162.7 L570.6 163.6 L570.8 169.3 L571.3 169.7 L571.7 169 L572.4 160.9 L572.8 165.4 L573.1 157.1 L573.7 166.1 L573.9 157.6 L574.3 152.9 L574.8 164.1 L575.4 154.3 L575.9 156.7 L576.5 154.5 L576.9 171.8 L577.7 163 L577.8 167.2 L578.3 177.4 L578.8 174.9 L578.9 185.5 L579.5 180.9 L579.7 181 L580 183.6 L580.5 175.3 L581.3 168 L581.4 166.4 L581.9 171.8 L582.2 168.5 L582.6 172 L583.1 164.6 L583.2 168.2 L583.8 167.8 L584.4 162.6 L584.6 174 L584.9 163.5 L585.4 178.2 L586 171.8 L586.2 170.4 L586.6 181.1 L586.9 172.6 L587.1 182.9 L587.6 177.7 L588.2 175.8 L588.8 178.1 L589 167 L589.3 167.6 L589.7 165.2 L589.9 161.5 L590.4 167.2 L590.5 171.9 L591 169.6 L591.1 162.9 L591.7 169.6 L591.8 184.4 L592.3 164.4 L592.4 178 L592.9 162.4 L593.1 164.9 L593.5 165.3 L593.7 174.9 L594.1 170.7 L594.3 176.2 L594.7 168.4 L595.3 174.6 L595.8 174.1 L596.4 175.8 L597 197 L597.5 178.7 L597.7 183.2 L598 187 L598.4 189.4 L598.6 181.1 L599 184.8 L599.6 171 L600.1 173.8 L600.3 173.3 L600.6 191.7 L600.8 180.3 L601.1 181.3 L601.4 180 L601.6 181.6 L602 186.6 L602.5 190.4 L603 172.5 L603.3 167.9 L603.5 172.6 L603.9 180.5 L604.4 174 L604.6 174.5 L604.8 185.1 L605.2 169.7 L605.7 171 L606.1 168.2 L606.3 169.6 L606.5 172.6 L606.9 181 L607.3 174.9 L607.6 183.8 L607.7 177.9 L608.1 181.8 L608.5 179.1 L608.9 192.3 L609.3 171.9 L609.5 169 L609.7 189.9 L610.1 175 L610.5 178.4 L610.7 181.9 L610.8 187.2 L611.2 176.4 L611.6 192.2 L611.8 172.1 L611.9 183 L612.3 181.1 L612.7 176.2"/>
</g>
<path class="t" d="M448.3 187.7v-2.7M448.3 23.8v2.7M458.5 187.7v-2.7M458.5 23.8v2.7M466.5 187.7v-2.7M466.5 23.8v2.7M473 187.7v-2.7M473 23.8v2.7M478.5 187.7v-2.7M478.5 23.8v2.7M483.2 187.7v-2.7M483.2 23.8v2.7M487.4 187.7v-2.7M487.4 23.8v2.7M491.2 187.7v-5M491.2 23.8v5M515.9 187.7v-2.7M515.9 23.8v2.7M530.3 187.7v-2.7M530.3 23.8v2.7M540.5 187.7v-2.7M540.5 23.8v2.7M548.5 187.7v-2.7M548.5 23.8v2.7M555 187.7v-2.7M555 23.8v2.7M560.5 187.7v-2.7M560.5 23.8v2.7M565.2 187.7v-2.7M565.2 23.8v2.7M569.4 187.7v-2.7M569.4 23.8v2.7M573.2 187.7v-5M573.2 23.8v5M597.9 187.7v-2.7M597.9 23.8v2.7M612.3 187.7v-2.7M612.3 23.8v2.7M448.3 187.7h5M612.3 187.7h-5M448.3 171.3h2.7M612.3 171.3h-2.7M448.3 161.6h2.7M612.3 161.6h-2.7M448.3 154.8h2.7M612.3 154.8h-2.7M448.3 149.5h2.7M612.3 149.5h-2.7M448.3 145.2h2.7M612.3 145.2h-2.7M448.3 141.5h2.7M612.3 141.5h-2.7M448.3 138.4h2.7M612.3 138.4h-2.7M448.3 135.6h2.7M612.3 135.6h-2.7M448.3 133.1h5M612.3 133.1h-5M448.3 116.6h2.7M612.3 116.6h-2.7M448.3 107h2.7M612.3 107h-2.7M448.3 100.2h2.7M612.3 100.2h-2.7M448.3 94.9h2.7M612.3 94.9h-2.7M448.3 90.6h2.7M612.3 90.6h-2.7M448.3 86.9h2.7M612.3 86.9h-2.7M448.3 83.7h2.7M612.3 83.7h-2.7M448.3 80.9h2.7M612.3 80.9h-2.7M448.3 78.4h5M612.3 78.4h-5M448.3 62h2.7M612.3 62h-2.7M448.3 52.4h2.7M612.3 52.4h-2.7M448.3 45.5h2.7M612.3 45.5h-2.7M448.3 40.2h2.7M612.3 40.2h-2.7M448.3 35.9h2.7M612.3 35.9h-2.7M448.3 32.3h2.7M612.3 32.3h-2.7M448.3 29.1h2.7M612.3 29.1h-2.7M448.3 26.3h2.7M612.3 26.3h-2.7"/>
<rect class="b" x="448.3" y="23.8" width="164" height="163.9"/>
<text x="442.5" y="27.3" font-size="10" text-anchor="end">10<tspan font-size="6.6" dy="-3.8">3</tspan></text>
<text x="442.5" y="81.9" font-size="10" text-anchor="end">10<tspan font-size="6.6" dy="-3.8">2</tspan></text>
<text x="442.5" y="136.6" font-size="10" text-anchor="end">10<tspan font-size="6.6" dy="-3.8">1</tspan></text>
<text x="442.5" y="191.2" font-size="10" text-anchor="end">10<tspan font-size="6.6" dy="-3.8">0</tspan></text>
<text x="491.5" y="200.6" font-size="10" text-anchor="middle">10<tspan font-size="6.6" dy="-3.8">−1</tspan></text>
<text x="573.5" y="200.6" font-size="10" text-anchor="middle">10<tspan font-size="6.6" dy="-3.8">0</tspan></text>
<text x="529.9" y="213.2" font-size="9.65" text-anchor="middle">Frequency [Hz]</text>
<text x="530.3" y="12.2" font-size="15.2" text-anchor="middle">UD</text>
</g>
<g id="p4">
<clipPath id="cp4"><rect x="37.7" y="233.2" width="164.2" height="163.8"/></clipPath>
<path class="g" d="M80.6 233.2V397"/>
<path class="g" d="M162.7 233.2V397"/>
<path class="g" d="M37.7 287.8H201.9"/>
<path class="g" d="M37.7 342.4H201.9"/>
<g clip-path="url(#cp4)">
<path class="c" stroke="#aaaaaa" stroke-width="1.15" d="M36.4 329.9 L37.2 329.9 L38 329.9 L38.8 329.8 L39.5 329.8 L40.3 329.8 L41.1 329.8 L41.9 329.7 L42.7 329.7 L43.4 329.7 L44.2 329.6 L45 329.6 L45.8 329.6 L46.6 329.5 L47.3 329.5 L48.1 329.4 L48.8 329.3 L49.6 329.3 L50.3 329.2 L51.1 329.1 L51.8 329 L52.6 329 L53.4 328.9 L54.1 328.8 L54.9 328.7 L55.6 328.6 L56.4 328.5 L57.1 328.5 L57.9 328.4 L58.6 328.3 L59.4 328.2 L60.1 328.1 L60.9 328 L61.7 327.9 L62.4 327.8 L63.2 327.7 L63.9 327.6 L64.7 327.5 L65.4 327.5 L66.2 327.4 L66.9 327.4 L67.7 327.4 L68.5 327.5 L69.3 327.7 L70.1 327.9 L70.9 328.3 L71.7 328.6 L72.4 329 L73.2 329.3 L74 329.5 L74.8 329.7 L75.5 329.8 L76.3 330 L77 330.1 L77.8 330.3 L78.6 330.3 L79.3 330.4 L80.1 330.2 L80.8 329.8 L81.6 329.1 L82.3 328.4 L83.1 327.5 L83.8 326.6 L84.6 325.7 L85.4 324.8 L86.2 323.7 L87 322.5 L87.8 321.3 L88.6 320 L89.3 318.7 L90.1 317.4 L90.9 316.2 L91.7 315 L92.5 313.8 L93.3 312.6 L94.1 311.4 L94.9 310.2 L95.7 309 L96.5 307.8 L97.3 306.7 L98 305.6 L98.8 304.5 L99.5 303.4 L100.3 302.3 L101 301.2 L101.8 300.2 L102.6 299.3 L103.3 298.4 L104 297.5 L104.7 296.6 L105.4 295.8 L106.1 295.3 L106.8 295.1 L107.6 295.3 L108.4 296 L109.2 297 L109.9 298.2 L110.7 300.9 L111.4 305.2 L112.1 309.2 L112.8 312.2 L113.5 314.9 L114.2 317.7 L114.9 320.7 L115.6 323.7 L116.3 326.1 L117 328.1 L117.7 329.7 L118.5 330.4 L119.2 328.8 L119.9 326.1 L120.6 323.2 L121.3 320.5 L122 318.6 L122.7 317.7 L123.4 319.8 L124.1 323.3 L124.8 326.2 L125.5 329.1 L126.2 331.8 L126.9 334.3 L127.6 336.7 L128.3 338.1 L129 338.8 L129.7 339.3 L130.4 339.5 L131.1 339.4 L131.8 339.1 L132.5 338.8 L133.2 338.6 L133.9 338.4 L134.3 338.3 L134.6 338.1 L135.4 337 L136.1 335.2 L136.6 333.7 L136.8 333.1 L137.5 331.3 L138.2 329.5 L138.7 328.4 L138.9 328.5 L139.6 327.4 L140.3 327.6 L140.8 326.9 L141 326.6 L141.7 326.7 L142.4 326.2 L142.7 326.1 L143.1 326.6 L143.8 325.1 L144.5 322.4 L145.2 318.5 L145.8 316.2 L146.3 312.9 L147 301.7 L147.7 289.5 L147.9 290.8 L148.2 287.8 L148.7 284.9 L149.3 291.7 L149.5 296.2 L149.9 300 L150.4 306 L150.8 310.6 L151 317.3 L151.5 315.7 L152.3 324.4 L152.5 322.9 L153 327.4 L153.7 332.6 L153.9 328.2 L154.4 328 L155.1 321.9 L155.2 323.3 L155.8 318.2 L156.5 314.9 L157.2 317.9 L157.8 320.9 L157.9 319.1 L158.6 330.1 L159 324 L159.3 328 L160 331.2 L160.1 323.9 L160.7 324.2 L161.3 328.8 L161.4 331 L162.1 333.1 L162.4 329.7 L162.8 329.5 L163.4 329.9 L164.2 332 L164.5 330.3 L164.9 326.2 L165.5 335.5 L165.6 331.1 L166.3 347.2 L167 340.7 L167.4 359.3 L167.7 348.1 L168.3 350.1 L168.9 352.2 L169.2 353.6 L169.4 344.7 L170 338.1 L170.6 344.7 L171 348 L171.2 339 L171.8 353.3 L172.5 340.9 L173.2 336.2 L173.4 337.8 L173.9 344.2 L174.2 330.3 L174.6 343.3 L175 336.6 L175.4 332.1 L175.7 335.9 L176.1 330 L176.5 328 L176.8 329.4 L177.2 348 L177.5 329.8 L177.9 340.3 L178.2 335.2 L178.6 339.4 L178.9 331.5 L179.3 325.1 L179.6 334.5 L179.9 323.8 L180.3 319 L180.6 329.8 L181 321.2 L181.2 318.8 L181.7 322.2 L181.9 319.9 L182.4 328.3 L183.1 323 L183.7 325.5 L184.3 316.1 L184.5 317.5 L184.9 312.8 L185.2 313.8 L185.4 323.8 L185.9 310.4 L186.5 329.2 L187.1 304.7 L187.6 302.7 L187.7 306.3 L188.1 303.6 L188.7 323.4 L189.2 313.7 L189.4 322.5 L189.7 325.8 L190.1 320.8 L190.7 319.6 L190.8 325.7 L191.2 320.7 L191.5 317.3 L192.1 302.9 L192.6 304.4 L193 301.8 L193.3 317.2 L193.5 313.8 L193.9 320.5 L194.4 322.7 L194.6 323.7 L194.8 320.3 L195.2 333.8 L195.7 327.7 L196.1 328.8 L196.5 327 L196.9 339.5 L197.2 323.7 L197.3 324.4 L197.7 338.9 L197.9 325.4 L198.1 323.2 L198.5 334.4 L198.9 321.5 L199.2 328.1 L199.3 327.4 L199.7 326.9 L200.1 323.6 L200.4 331.6 L200.8 320.9 L201 332.1 L201.2 321.6 L201.5 322.7 L201.9 323.9 L202.3 323.4"/>
<path class="c" stroke="#1faaff" stroke-width="1.3" d="M36.4 339.4 L37.2 339.5 L37.9 339.6 L38.6 339.6 L39.3 339.7 L40.1 339.7 L40.8 339.8 L41.5 339.9 L42.3 339.9 L43 340 L43.7 340 L44.5 340.1 L45.2 340.1 L46 340.2 L46.8 340.2 L47.5 340.3 L48.3 340.3 L49.1 340.4 L49.8 340.4 L50.6 340.4 L51.4 340.5 L52.1 340.5 L52.9 340.5 L53.7 340.5 L54.4 340.5 L55.2 340.5 L56 340.5 L56.7 340.5 L57.5 340.5 L58.3 340.5 L59 340.5 L59.8 340.5 L60.6 340.5 L61.4 340.5 L62.1 340.5 L62.9 340.5 L63.7 340.4 L64.4 340.4 L65.2 340.3 L66 340.2 L66.7 340.2 L67.5 340.1 L68.3 340 L69 339.9 L69.8 339.9 L70.6 339.8 L71.3 339.7 L72.1 339.7 L72.9 339.6 L73.6 339.5 L74.4 339.4 L75.2 339.4 L76 339.3 L76.7 339.2 L77.5 339.1 L78.3 339 L79 338.9 L79.8 338.8 L80.6 338.7 L81.4 338.6 L82.2 338.4 L83 338.3 L83.8 338.1 L84.6 338 L85.4 337.8 L86.2 337.6 L87 337.3 L87.8 337.1 L88.6 336.8 L89.3 336.5 L90.1 336.2 L90.9 335.8 L91.7 335.5 L92.5 335.1 L93.3 334.7 L94.1 334.3 L94.9 333.9 L95.7 333.4 L96.5 333 L97.3 332.5 L98.1 332 L98.9 331.4 L99.6 330.9 L100.4 330.3 L101.2 329.7 L102 329.1 L102.8 328.5 L103.6 327.8 L104.4 327.1 L105.1 326.3 L105.9 325.4 L106.6 324.6 L107.4 323.8 L108.1 323.1 L108.9 322.5 L109.4 322.3 L110 322 L110.7 321.5 L111.4 320.7 L112.1 319.6 L112.8 318.5 L113.5 317.1 L114.2 315.4 L114.9 313.5 L115.6 311.5 L116.3 309.3 L117 306.9 L117.7 304.4 L118.5 301.6 L119.2 298.6 L119.9 295.3 L120.6 291.8 L121.3 287.6 L122 284 L122.5 282 L123.1 280.4 L123.7 279.8 L124.4 281.6 L125.2 284.7 L125.8 287 L126.3 289.5 L126.9 291.1 L127.6 292 L128.3 292.5 L128.9 291.2 L129.4 288.8 L130 287.5 L130.7 289.5 L131.4 293.2 L131.8 295.3 L132 296.4 L132.6 300.1 L133.2 303 L133.9 305.8 L134.3 306.5 L134.6 307.2 L135.4 305.8 L136.1 304.4 L136.6 305.5 L136.8 306.2 L137.5 308.6 L138.2 310.6 L138.7 312.5 L138.9 312.8 L139.6 316.1 L140.3 318.3 L140.8 319.8 L141 320.3 L141.7 321.7 L142.4 320.2 L142.7 318.9 L143.1 317.2 L143.8 311 L144.5 306.4 L145.2 303.4 L145.9 301.7 L146.3 300.1 L146.4 297.1 L146.9 294.4 L147.5 286.9 L147.9 282.6 L148.6 278.2 L149.2 277.3 L149.5 276.5 L149.8 276.6 L150.4 277.1 L151 279.3 L151.5 281.5 L152.3 279.1 L152.5 278.8 L153 277.9 L153.5 278 L153.9 286.3 L154.5 287.5 L155.1 291.2 L155.2 294.9 L155.8 300.9 L156.5 302.5 L157.2 310.6 L157.8 309.9 L157.9 307.1 L158.6 313.9 L159 301.4 L159.3 298.6 L160 297.2 L160.1 300.9 L160.7 296.9 L161.3 296.5 L161.8 298.5 L162.3 308.6 L162.8 308.4 L163.4 315.9 L164.2 321.7 L164.5 327 L164.9 315.3 L165.5 320.4 L165.6 314.5 L166.2 334 L166.4 315.2 L166.7 317.4 L167.2 324.5 L167.4 316.2 L167.7 313.7 L168.3 316.5 L169 320.8 L169.2 336 L169.7 326.5 L170.1 319.1 L170.4 324.4 L171 322.7 L171.1 312.7 L171.8 321.7 L172.5 312.4 L173.1 315.5 L173.4 313.6 L173.7 321.5 L174.2 320.3 L174.6 318.9 L175 318.9 L175.1 325.4 L175.6 323.9 L176.2 319.2 L176.5 333.7 L176.8 332.4 L177.2 338.9 L177.3 337.1 L177.9 339.7 L178.4 342.1 L178.6 343.1 L178.9 330.9 L179.3 347.3 L179.6 363.2 L179.9 347.9 L180.3 330.4 L180.6 336.5 L181 332 L181.2 335.1 L181.7 347.2 L181.9 333.1 L182.4 341.9 L183.1 336.4 L183.7 336.4 L184.3 327.7 L184.5 322.7 L184.9 328.8 L185.2 334.1 L185.4 328.4 L185.9 331.9 L186.5 349.8 L187.1 342.1 L187.3 341.1 L187.6 352.2 L188 355.3 L188.1 348.6 L188.7 336.2 L189.2 335 L189.4 330.6 L189.7 339.5 L190.1 330.1 L190.7 339.5 L190.8 328.5 L191.2 332.6 L191.5 333.8 L192.1 340.2 L192.3 339.6 L192.6 344 L193 344.3 L193.5 343.4 L193.7 336.2 L193.9 356.5 L194.4 337.2 L194.8 333.2 L195.1 333.3 L195.3 330 L195.7 332.1 L196.1 340.5 L196.5 336.3 L196.9 343.5 L197.2 339 L197.3 336.6 L197.7 344 L197.9 342.8 L198.1 334.9 L198.5 336 L198.9 323.4 L199.1 325.7 L199.3 325.7 L199.6 335.2 L200 331.8 L200.4 338.1 L200.8 341.6 L201 344.7 L201.2 340.8 L201.5 343 L201.9 344.1 L202.3 344.4"/>
<path class="c" stroke="#2bff2b" stroke-width="1.3" d="M36.4 340.9 L37.2 340.9 L37.9 340.9 L38.6 340.9 L39.3 340.9 L40.1 340.9 L40.8 340.9 L41.5 340.9 L42.3 340.9 L43 340.9 L43.7 340.9 L44.5 340.9 L45.2 340.9 L46 340.8 L46.8 340.7 L47.5 340.5 L48.3 340.3 L49.1 340.1 L49.8 339.9 L50.6 339.6 L51.4 339.4 L52.1 339.2 L52.9 339 L53.7 338.9 L54.4 338.7 L55.2 338.5 L56 338.3 L56.7 338.2 L57.5 338 L58.3 337.8 L59 337.7 L59.8 337.5 L60.6 337.4 L61.4 337.3 L62.1 337.2 L62.8 337.1 L63.6 337.1 L64.3 337 L65.1 336.9 L65.8 336.8 L66.5 336.8 L67.3 336.7 L68 336.7 L68.7 336.7 L69.5 336.8 L70.3 337 L71.1 337.3 L71.9 337.6 L72.7 338 L73.5 338.3 L74.3 338.6 L75.1 338.8 L75.9 338.9 L76.7 339 L77.5 339.2 L78.3 339.2 L79 339.3 L79.8 339.4 L80.6 339.4 L81.4 339.4 L82.2 339.3 L82.9 338.9 L83.7 338.3 L84.4 337.6 L85.2 336.8 L86 336 L86.7 335.2 L87.5 334.3 L88.2 333.3 L89 332.2 L89.7 331 L90.5 329.9 L91.2 328.8 L92 327.8 L92.7 327 L93.5 326.1 L94.3 325.4 L95 324.6 L95.8 323.9 L96.5 323.2 L97.3 322.5 L98 321.9 L98.8 321.3 L99.5 320.7 L100.3 320.1 L101 319.6 L101.8 319 L102.6 318.3 L103.3 317.6 L104 316.7 L104.7 315.7 L105.4 314.9 L106.1 314.3 L106.8 314.1 L107.6 314.2 L108.4 314.4 L109.2 314.6 L109.9 314.7 L110.7 314.8 L111.4 314.8 L112.1 314.8 L112.8 314.9 L113.5 315.4 L114.2 316.5 L114.9 317.7 L115.6 319.1 L116.3 320.5 L117 321.2 L117.7 321.2 L118.5 321.2 L119.2 321.2 L119.9 318.8 L120.6 314.9 L121.3 311.9 L122 309.2 L122.5 307.4 L123 306.4 L123.5 308.5 L124.1 312 L124.8 316.2 L125.5 319.1 L126.2 319.8 L126.9 320.3 L127.6 320.5 L128.3 320.1 L129 319.4 L129.7 319.1 L130.4 319.5 L131.1 320.6 L131.8 321.8 L132.5 323.6 L133.2 325.7 L133.9 327.5 L134.3 328.1 L134.6 328.8 L135.4 330 L136.1 331.1 L136.6 331.9 L136.8 332.4 L137.5 333.5 L138.2 334.7 L138.7 335.2 L138.9 335.6 L139.6 335.9 L140.3 334.2 L140.8 332.8 L141 331.5 L141.7 330 L142.4 328.9 L142.7 329.5 L143.1 329.3 L143.8 330.9 L144.5 326.6 L145.2 319.9 L145.8 315.5 L146.3 312.1 L146.8 306.1 L147.3 298.5 L147.8 290 L148.3 283.4 L148.9 284.6 L149.4 288.2 L150.1 293.3 L150.8 291.3 L151 296 L151.4 296.7 L152 304.2 L152.5 306.9 L153.1 309.5 L153.7 315.5 L153.9 314.4 L154.4 314.1 L155.1 319.3 L155.2 319.3 L155.8 324.9 L156.5 328.4 L157.2 338.7 L157.8 336.9 L157.9 338.8 L158.6 336.1 L159 335 L159.3 328 L160 329.3 L160.1 320.6 L160.7 322.1 L161.3 315.3 L161.8 314.7 L162.3 325.8 L162.8 330.9 L163.4 347.6 L164.2 344.5 L164.5 349.9 L164.7 344.6 L165.2 340.9 L165.5 344.1 L165.8 331.1 L166.3 334.6 L167 323 L167.4 325.1 L167.7 327.3 L168.3 326.1 L169 331.6 L169.2 327 L169.7 343.9 L170.1 334 L170.4 336.1 L171 341.1 L171.1 343.5 L171.8 334.3 L172.5 339.6 L173.2 323 L173.4 328.9 L173.9 319.9 L174.2 326 L174.5 318.7 L175 311.4 L175.6 323.5 L175.7 318.4 L176.1 340.1 L176.5 332.4 L176.8 331.2 L177.2 344.6 L177.5 341.6 L177.9 334.5 L178.2 339.6 L178.6 339.2 L178.9 329.5 L179.3 330.8 L179.6 334.8 L179.9 324.6 L180.3 327.3 L180.6 326.1 L181 321.9 L181.2 332.8 L181.7 324.8 L181.9 321.9 L182.4 328.4 L183.1 334.5 L183.7 337.2 L184.3 330.5 L184.5 330.3 L184.9 331.3 L185.2 338.2 L185.4 335.7 L185.9 335.3 L186.5 344.3 L187.1 334.2 L187.3 333.6 L187.6 331.9 L188 343.3 L188.1 329.9 L188.7 330.4 L189.2 332.8 L189.4 343.8 L189.7 332.9 L190.1 341.3 L190.7 334.5 L190.8 330.1 L191.2 325.3 L191.5 319 L192.1 318.2 L192.6 303.7 L193 309.1 L193.2 314.5 L193.5 321.9 L193.7 322.7 L193.9 332 L194.4 331.4 L194.8 334.5 L195.1 331.2 L195.3 343.1 L195.7 335.1 L196.1 342.8 L196.5 338.5 L196.9 345.4 L197.2 351.1 L197.3 353.2 L197.7 332.1 L197.9 321.3 L198.1 324.8 L198.5 320.6 L198.9 315.4 L199.3 308.8 L199.7 319.7 L199.9 318.9 L200.1 339.8 L200.4 329.3 L200.8 333.1 L201 327.9 L201.2 332.5 L201.5 330.4 L201.9 328.5 L202.3 329.2"/>
<path class="c" stroke="#ff2ba0" stroke-width="1.3" d="M36.4 335.2 L37.2 335.2 L38 335.2 L38.8 335.2 L39.5 335.2 L40.3 335.2 L41.1 335.2 L41.9 335.2 L42.7 335.2 L43.4 335.2 L44.2 335.2 L45 335.2 L45.8 335.2 L46.6 335.2 L47.3 335.2 L48.1 335.2 L48.9 335.1 L49.6 335 L50.4 334.9 L51.2 334.8 L51.9 334.7 L52.7 334.6 L53.5 334.4 L54.2 334.3 L55 334.2 L55.8 334 L56.6 333.8 L57.3 333.6 L58.1 333.4 L58.9 333.1 L59.6 332.9 L60.4 332.6 L61.2 332.3 L61.9 332.1 L62.7 331.8 L63.5 331.6 L64.2 331.4 L65 331.2 L65.7 330.9 L66.5 330.7 L67.2 330.5 L68 330.4 L68.7 330.4 L69.5 330.5 L70.2 330.8 L70.9 331.3 L71.6 331.9 L72.3 332.5 L73 333.1 L73.7 333.8 L74.5 334.5 L75.2 335.3 L76 336.2 L76.7 337 L77.5 337.7 L78.3 338.4 L79 339 L79.8 339.6 L80.5 340.2 L81.3 340.7 L82 341.2 L82.8 341.4 L83.5 341.6 L84.2 341.3 L84.9 340.6 L85.7 339.7 L86.4 338.6 L87.1 337.4 L87.8 336.3 L88.5 335.2 L89.2 334 L89.9 332.7 L90.6 331.4 L91.3 330.1 L92 328.9 L92.7 327.5 L93.5 326.2 L94.3 324.8 L95 323.4 L95.8 322 L96.5 320.7 L97.3 319.4 L98.1 318 L98.9 316.7 L99.6 315.4 L100.4 314.2 L101.2 312.9 L102 311.6 L102.8 310.2 L103.6 308.8 L104.4 307.4 L105.1 305.8 L105.9 304.2 L106.6 302.6 L107.4 301 L108.1 299.5 L108.9 298.2 L109.4 297.5 L110 296.7 L110.7 295.3 L111.4 293.7 L112.1 292.3 L112.8 291.8 L113.5 291.9 L114.2 292.2 L114.9 292.7 L115.6 293.2 L116.3 293.8 L117 294.7 L117.7 295.7 L118.5 296.7 L119.2 297.8 L119.9 299.1 L120.6 300.2 L121.3 301 L122 301.8 L122.7 303 L123.4 306.8 L124.1 312 L124.8 317 L125.5 321.9 L126.1 326.4 L126.6 328.9 L127.3 326.7 L128 323.3 L128.6 321.4 L129.2 319.8 L129.7 319.1 L130.4 320.8 L131.1 322.6 L131.8 321.2 L132.5 318.4 L133.2 313.8 L133.9 310.6 L134.3 310.8 L134.6 311.1 L135.4 312.1 L136.1 313.3 L136.6 314 L136.8 314.2 L137.5 310.8 L138.2 306.3 L138.7 305.3 L138.9 304.5 L139.6 303.5 L140.3 306.5 L140.8 310.4 L141 311.2 L141.7 317.5 L142.4 321.5 L142.7 320.8 L143.1 320.3 L143.8 320 L144.5 315.8 L145.2 314.3 L145.8 312.8 L146.3 311.9 L146.9 305.5 L147.5 295 L147.9 287.9 L148.7 280.4 L149.2 284.3 L149.5 291 L149.7 293.6 L150.3 302.1 L150.8 309.7 L151 311.4 L151.5 309.5 L152.3 306.4 L152.5 307.4 L153 310.8 L153.7 312.2 L153.9 309.7 L154.4 309.5 L155.1 307.7 L155.2 315.4 L155.8 309.9 L156.5 314.2 L157.2 319.1 L157.8 321.3 L157.9 323.3 L158.6 337.7 L159 332.3 L159.3 335.2 L160 327.4 L160.1 329.6 L160.7 325.8 L161.3 325.7 L161.4 333.1 L162.1 325 L162.4 331.2 L162.7 336.4 L163.2 353.8 L163.4 341.6 L163.7 340 L164.2 335.6 L164.5 338.9 L164.9 341.5 L165.5 328.7 L165.6 337.9 L166.3 335.8 L166.4 328.4 L166.9 339 L167.4 334.2 L167.6 326.9 L168.1 335.4 L168.3 323.2 L168.6 318.2 L169.2 324.4 L169.7 324.1 L170.1 325.3 L170.4 333.7 L171 330.2 L171.1 329.8 L171.8 324.5 L172.5 328.2 L173.2 332.3 L173.4 322.9 L173.9 329.8 L174.2 348.2 L174.6 336.1 L175 336.9 L175.4 350.1 L175.7 354.7 L176 348.3 L176.5 349.4 L176.6 347.1 L177.2 341.1 L177.9 331.1 L178.5 350.3 L179.1 341.7 L179.3 358 L179.7 348.9 L179.9 352.9 L180.3 366.4 L180.6 356.4 L180.9 347.4 L181.2 340.9 L181.4 340.3 L181.9 336 L182 327.6 L182.5 335.5 L182.6 341.2 L183.1 368.3 L183.7 380.7 L184.3 372.2 L184.5 381.4 L184.9 378.5 L185.2 371.5 L185.4 377 L185.9 362.8 L186.5 345.4 L187.1 334.2 L187.3 333.7 L187.6 334.1 L188 335.5 L188.1 341.8 L188.7 352.8 L189.2 341.4 L189.4 348.9 L189.7 338.3 L190.1 337 L190.7 330.8 L190.8 336.8 L191.2 328.4 L191.5 339 L191.6 327.3 L192.1 330 L192.2 332.2 L192.6 337.4 L193 338.5 L193.5 359.5 L193.7 352.4 L193.9 357.2 L194.3 381.4 L194.8 378.2 L195 376.9 L195.3 376.7 L195.7 367.5 L196.1 359.2 L196.5 350.4 L196.9 356.8 L197.2 358.7 L197.3 375.1 L197.7 367.3 L197.9 380.2 L198.1 370.4 L198.5 361.6 L198.7 357.8 L198.9 365.9 L199.3 347.6 L199.5 345.9 L199.7 341.2 L200.1 344.3 L200.4 355.1 L200.8 349.6 L201.2 350.8 L201.5 359.1 L201.9 350.4 L202.2 351.3"/>
</g>
<path class="t" d="M37.7 397v-2.7M37.7 233.2v2.7M48 397v-2.7M48 233.2v2.7M55.9 397v-2.7M55.9 233.2v2.7M62.4 397v-2.7M62.4 233.2v2.7M67.9 397v-2.7M67.9 233.2v2.7M72.7 397v-2.7M72.7 233.2v2.7M76.9 397v-2.7M76.9 233.2v2.7M80.6 397v-5M80.6 233.2v5M105.3 397v-2.7M105.3 233.2v2.7M119.8 397v-2.7M119.8 233.2v2.7M130.1 397v-2.7M130.1 233.2v2.7M138 397v-2.7M138 233.2v2.7M144.5 397v-2.7M144.5 233.2v2.7M150 397v-2.7M150 233.2v2.7M154.8 397v-2.7M154.8 233.2v2.7M159 397v-2.7M159 233.2v2.7M162.7 397v-5M162.7 233.2v5M187.4 397v-2.7M187.4 233.2v2.7M201.9 397v-2.7M201.9 233.2v2.7M37.7 397h5M201.9 397h-5M37.7 380.6h2.7M201.9 380.6h-2.7M37.7 370.9h2.7M201.9 370.9h-2.7M37.7 364.1h2.7M201.9 364.1h-2.7M37.7 358.8h2.7M201.9 358.8h-2.7M37.7 354.5h2.7M201.9 354.5h-2.7M37.7 350.8h2.7M201.9 350.8h-2.7M37.7 347.7h2.7M201.9 347.7h-2.7M37.7 344.9h2.7M201.9 344.9h-2.7M37.7 342.4h5M201.9 342.4h-5M37.7 325.9h2.7M201.9 325.9h-2.7M37.7 316.3h2.7M201.9 316.3h-2.7M37.7 309.5h2.7M201.9 309.5h-2.7M37.7 304.2h2.7M201.9 304.2h-2.7M37.7 299.9h2.7M201.9 299.9h-2.7M37.7 296.2h2.7M201.9 296.2h-2.7M37.7 293.1h2.7M201.9 293.1h-2.7M37.7 290.3h2.7M201.9 290.3h-2.7M37.7 287.8h5M201.9 287.8h-5M37.7 271.3h2.7M201.9 271.3h-2.7M37.7 261.7h2.7M201.9 261.7h-2.7M37.7 254.9h2.7M201.9 254.9h-2.7M37.7 249.6h2.7M201.9 249.6h-2.7M37.7 245.3h2.7M201.9 245.3h-2.7M37.7 241.6h2.7M201.9 241.6h-2.7M37.7 238.4h2.7M201.9 238.4h-2.7M37.7 235.6h2.7M201.9 235.6h-2.7"/>
<rect class="b" x="37.7" y="233.2" width="164.2" height="163.8"/>
<text x="31.9" y="236.7" font-size="10" text-anchor="end">10<tspan font-size="6.6" dy="-3.8">2</tspan></text>
<text x="31.9" y="291.3" font-size="10" text-anchor="end">10<tspan font-size="6.6" dy="-3.8">1</tspan></text>
<text x="31.9" y="345.9" font-size="10" text-anchor="end">10<tspan font-size="6.6" dy="-3.8">0</tspan></text>
<text x="31.9" y="400.5" font-size="10" text-anchor="end">10<tspan font-size="6.6" dy="-3.8">−1</tspan></text>
<text x="80.9" y="409.9" font-size="10" text-anchor="middle">10<tspan font-size="6.6" dy="-3.8">−1</tspan></text>
<text x="163" y="409.9" font-size="10" text-anchor="middle">10<tspan font-size="6.6" dy="-3.8">0</tspan></text>
<text x="119.4" y="422.5" font-size="9.65" text-anchor="middle">Frequency [Hz]</text>
</g>
<g id="p5">
<clipPath id="cp5"><rect x="243" y="233.2" width="164" height="163.8"/></clipPath>
<path class="g" d="M285.9 233.2V397"/>
<path class="g" d="M367.9 233.2V397"/>
<path class="g" d="M243 287.8H407"/>
<path class="g" d="M243 342.4H407"/>
<g clip-path="url(#cp5)">
<path class="c" stroke="#aaaaaa" stroke-width="1.15" d="M241.4 315.1 L242 315.3 L242.5 315.4 L243.1 315.6 L243.9 315.9 L244.7 316.3 L245.5 316.8 L246.3 317.3 L247.1 317.8 L247.9 318.4 L248.7 318.9 L249.5 319.4 L250.2 319.8 L251 320.2 L251.8 320.6 L252.6 321 L253.4 321.4 L254.2 321.8 L255 322.2 L255.8 322.5 L256.5 322.9 L257.3 323.3 L258.1 323.6 L258.8 324 L259.6 324.3 L260.3 324.5 L261.1 324.7 L261.8 324.7 L262.6 324.8 L263.3 324.9 L264 324.9 L264.8 325 L265.5 325 L266.2 325 L267 325.1 L267.7 325.1 L268.5 325.1 L269.2 325 L270 325 L270.8 324.8 L271.5 324.7 L272.3 324.5 L273.1 324.3 L273.8 324.1 L274.6 323.8 L275.4 323.6 L276.1 323.4 L276.9 323.2 L277.7 323 L278.5 322.7 L279.2 322.5 L280 322.3 L280.8 322.1 L281.5 321.8 L282.3 321.5 L283.1 321.3 L283.8 321 L284.6 320.7 L285.4 320.4 L286.1 320.1 L286.8 319.8 L287.6 319.6 L288.3 319.2 L289.1 318.9 L289.8 318.6 L290.5 318.2 L291.3 317.8 L292 317.3 L292.8 316.8 L293.5 316.3 L294.2 315.6 L294.9 314.8 L295.6 314 L296.3 313 L297 312 L297.7 310.7 L298.4 309.2 L299.1 307.5 L299.8 305.7 L300.5 304 L301.2 302.5 L301.9 301 L302.6 299.6 L303.3 298.2 L304 297 L304.7 295.9 L305.4 295.1 L306.2 294.4 L307 293.8 L307.8 293.3 L308.6 293 L309.3 292.7 L310 292.5 L310.7 292.2 L311.4 292.1 L312.1 291.9 L312.8 291.9 L313.6 292.2 L314.4 292.7 L315.2 293.3 L316 293.6 L316.7 293.4 L317.3 293.1 L318 293 L318.7 294.9 L319.4 298.6 L320.1 303.2 L320.8 308.5 L321.5 313.8 L322.2 318.5 L322.8 321.6 L323.4 324.3 L323.9 325.5 L324.6 323.3 L325.3 319.9 L326 317.1 L326.7 315.6 L327.4 316.7 L328.1 318.5 L328.8 320 L329.4 321.6 L330 322.7 L330.7 323.4 L331.4 323.9 L332.1 324.1 L332.8 323.9 L333.5 323.4 L334.2 322.9 L334.9 322.7 L335.6 323.1 L336.3 324.1 L337 325 L337.7 325.5 L338.4 324.4 L339.1 322 L339.4 320.9 L339.8 319.6 L340.5 318.5 L341.2 318.4 L341.7 318.4 L341.9 318.3 L342.6 314.3 L343.4 308.4 L343.9 305.4 L344.1 304.6 L344.8 301.2 L345.3 299.5 L345.9 298.5 L346.4 302.3 L346.9 309 L347.4 313.6 L347.9 318 L348.5 322.9 L349.1 327.4 L349.7 332.1 L350.4 334.8 L351.1 336.2 L351.4 338.1 L351.8 337.4 L352.5 339.3 L353.1 338.1 L353.2 339.4 L353.9 337.8 L354.6 339.4 L355.3 343.3 L355.8 350.1 L356.2 352.4 L356.3 357.8 L356.9 352.5 L357.4 348.1 L357.6 346.5 L358.1 347.4 L358.8 345.5 L359 349.5 L359.5 344.2 L360.3 335.1 L361 334.1 L361.7 327.9 L362.2 328.8 L362.8 339.9 L362.9 334.2 L363.3 342.4 L363.8 337.8 L364.1 334.6 L364.5 337.7 L365.2 332.8 L365.9 337.3 L366.4 337.9 L366.6 335.1 L367.3 336.1 L367.5 342.5 L368 337.4 L368.6 338 L368.7 344.6 L369.4 350.5 L369.6 346.7 L369.9 348.7 L370.4 348.1 L370.6 340.5 L371 352.4 L371.5 333.7 L372.2 351.1 L372.5 345.5 L372.9 346.9 L373.5 359.6 L373.6 358.1 L374.3 355.9 L375 360.4 L375.2 354.8 L375.7 356.1 L376.1 360.1 L376.5 355.6 L376.9 363.5 L377.2 355.9 L377.7 340.1 L378.3 321.7 L378.6 328.7 L378.9 324.4 L379.3 331.7 L380.1 334.2 L380.9 350.4 L381.6 335.6 L382.3 339.3 L383 343.3 L383.7 340 L384.4 340.2 L385.1 345.9 L385.7 345.3 L386.4 340.9 L386.5 339.7 L387 347.7 L387.2 345.5 L387.6 340.8 L387.9 348 L388.2 354.7 L388.6 344.3 L388.8 350.1 L389.3 359.2 L390 345.4 L390.5 346.2 L390.7 351.9 L391.1 347.4 L391.4 347.1 L391.7 343.2 L392 349.9 L392.2 350.9 L392.6 359.9 L392.7 351.9 L393.1 355.6 L393.3 347.4 L393.5 337.8 L393.8 343.6 L394.3 333.5 L394.8 328.3 L395.3 324.3 L395.8 327.6 L395.9 321 L396.3 332.5 L396.5 328 L396.8 332.6 L397.1 329.3 L397.2 344.1 L397.7 334.5 L398.2 338.8 L398.5 354.7 L398.6 338.7 L399.1 346.4 L399.2 345.9 L399.5 338.3 L399.9 335.5 L400.4 343.5 L400.6 343.9 L400.8 336.7 L401.2 337.6 L401.6 351.1 L402 336.9 L402.4 352.6 L402.7 344.4 L402.8 342.9 L403.2 358 L403.4 348 L403.6 352.2 L404 375.3 L404.4 366.3 L404.8 379.7 L405.2 377.7 L405.5 383.7 L405.9 376.3 L406.2 381 L406.6 377.6 L406.8 385.5 L407 377.4 L407.4 374.4"/>
<path class="c" stroke="#1faaff" stroke-width="1.3" d="M241.4 338 L242 338.1 L242.5 338.2 L243.1 338.4 L243.9 338.6 L244.7 338.9 L245.5 339.2 L246.3 339.6 L247.1 339.9 L247.9 340.2 L248.7 340.4 L249.5 340.5 L250.2 340.6 L251 340.7 L251.8 340.7 L252.6 340.8 L253.4 340.8 L254.2 340.9 L255 340.9 L255.8 340.9 L256.6 340.9 L257.4 340.9 L258.2 340.8 L259 340.8 L259.8 340.7 L260.5 340.6 L261.3 340.6 L262.1 340.5 L262.9 340.4 L263.7 340.3 L264.5 340.2 L265.3 340 L266.1 339.9 L266.9 339.8 L267.7 339.6 L268.5 339.4 L269.3 339.3 L270.1 339.1 L270.8 338.9 L271.6 338.8 L272.4 338.6 L273.2 338.4 L274 338.2 L274.8 338 L275.6 337.7 L276.4 337.5 L277.2 337.2 L278 336.9 L278.8 336.6 L279.6 336.4 L280.4 336.1 L281.1 335.8 L281.9 335.6 L282.7 335.4 L283.5 335.2 L284.3 334.9 L285.1 334.7 L285.9 334.5 L286.7 334.3 L287.5 334.2 L288.3 334 L289.1 333.9 L289.9 333.8 L290.7 333.6 L291.4 333.5 L292.2 333.4 L293 333.3 L293.8 333.1 L294.6 332.9 L295.3 332.8 L296.1 332.6 L296.8 332.4 L297.6 332.2 L298.3 331.9 L299.1 331.6 L299.9 331.2 L300.6 330.8 L301.4 330.2 L302.1 329.6 L302.9 329 L303.6 328.4 L304.4 327.8 L305.1 327.4 L305.9 326.9 L306.6 326.5 L307.4 326.1 L308.2 325.7 L308.9 325.2 L309.7 324.7 L310.4 324 L311.1 323.2 L311.8 322.4 L312.5 321.4 L313.2 320.4 L313.9 319.4 L314.6 318.3 L315.3 317.2 L316 316.1 L316.8 314.7 L317.5 313 L318 311.3 L318.7 310.2 L319.4 309.4 L320.1 308.5 L320.8 307 L321.5 305 L322.2 302.8 L322.9 300.3 L323.6 297.3 L324.3 294.4 L325 291.5 L325.7 288.6 L326.5 285.9 L327.2 283.3 L327.9 280.9 L328.6 278.9 L329.2 277.5 L329.8 276.3 L330.4 275.8 L331 276.3 L331.5 277.5 L332.1 278.9 L332.6 280.6 L333.2 282.7 L333.8 284.5 L334.4 286.3 L335 287.9 L335.6 288.8 L336.2 289.1 L336.8 289.4 L337 289.4 L337.4 289.5 L338 288.7 L338.6 287 L339.1 285.3 L339.4 284.1 L339.8 282.9 L340.5 281 L341.2 280.6 L341.7 280.4 L341.9 280.4 L342.6 278.1 L343.4 274.7 L343.9 270.9 L344.5 268.3 L345 269.4 L345.5 271.9 L345.9 274.8 L346.2 276.7 L346.9 282.8 L347.4 289.8 L347.9 297.3 L348.4 303.2 L349 308.3 L349.7 313.8 L350.4 317 L351.1 315.9 L351.4 313.4 L351.8 312.6 L352.5 308.9 L353.1 307.7 L353.2 308.6 L353.8 307.2 L354.3 308.5 L354.7 309.5 L354.9 308.7 L355.6 310.8 L356.2 303.5 L356.3 304.6 L357 300.8 L357.6 301.2 L358.3 299.8 L358.8 301.4 L359 301 L359.4 298.4 L360 292 L360.4 286.7 L360.5 283.2 L361.1 283.3 L361.7 282.9 L362.2 293.4 L362.8 294.1 L362.9 296.2 L363.4 308.2 L363.9 304.2 L364.1 315.3 L364.5 306.5 L365.2 315.7 L365.9 304 L366.4 306.3 L366.6 308.2 L367.3 315.7 L367.5 306.4 L368 312.9 L368.6 302.9 L368.7 307.7 L369.4 307 L369.6 313.9 L370.1 313.4 L370.6 314.2 L370.8 323.6 L371.5 317.5 L372.2 315.6 L372.5 317.4 L372.9 311.3 L373.5 314.3 L373.6 317.6 L374.3 314.2 L375 315.7 L375.2 322.2 L375.7 317.6 L376.1 307.1 L376.5 306.3 L376.9 305.8 L377.2 313 L377.6 298.4 L377.8 309.4 L378.1 297.7 L378.6 307.3 L378.8 303.5 L379.3 317.3 L380.1 314.6 L380.9 322.8 L381.6 328.1 L382.3 310.2 L383 314.6 L383.7 322.2 L384.4 306.2 L385.1 300.3 L385.6 293.8 L386.1 302.8 L386.4 299.9 L386.6 301.8 L387 308 L387.2 308 L387.6 317.9 L387.9 323.5 L388.2 313.8 L388.6 317.1 L388.8 321.5 L389.3 331.6 L390 326.3 L390.5 330.8 L390.7 328.8 L391.1 328.9 L391.4 337.6 L391.7 325.2 L392.1 338.8 L392.7 323.9 L393.3 329.7 L393.5 321.7 L393.8 336.6 L394.3 325.4 L394.8 331.3 L395 340.2 L395.3 330.8 L395.7 340.3 L395.8 339 L396.3 330.6 L396.8 328.1 L397.1 326.5 L397.2 340.2 L397.7 326.5 L398.2 339.6 L398.5 337 L398.6 335.1 L399 349.5 L399.5 350.1 L399.9 336.8 L400.4 328 L400.6 331.2 L400.8 330.4 L401.2 333 L401.6 353.5 L402 345.7 L402.4 336 L402.7 327.4 L402.8 325.6 L403.2 326.6 L403.4 333.7 L403.6 327.8 L404 343.1 L404.4 329.4 L404.8 343.2 L405.2 336.5 L405.5 332.8 L405.9 335.7 L406.2 335.5 L406.6 339.3 L406.8 346.5 L407 335.7 L407.4 334.9"/>
<path class="c" stroke="#2bff2b" stroke-width="1.3" d="M241.4 340.9 L242.2 341 L242.9 341.1 L243.6 341.1 L244.3 341.2 L245.1 341.3 L245.8 341.4 L246.5 341.4 L247.3 341.5 L248 341.5 L248.7 341.5 L249.5 341.6 L250.2 341.5 L251 341.5 L251.8 341.4 L252.6 341.3 L253.4 341.2 L254.2 341.1 L255 341 L255.8 340.9 L256.6 340.8 L257.4 340.7 L258.2 340.6 L259 340.5 L259.8 340.4 L260.5 340.3 L261.3 340.2 L262.1 340.1 L262.9 339.9 L263.7 339.7 L264.5 339.5 L265.3 339.3 L266.1 339.1 L266.9 338.9 L267.7 338.6 L268.5 338.4 L269.3 338.2 L270.1 337.9 L270.8 337.7 L271.6 337.4 L272.4 337.2 L273.2 336.9 L274 336.6 L274.8 336.3 L275.6 335.9 L276.4 335.5 L277.2 335 L278 334.5 L278.8 334 L279.6 333.5 L280.4 332.9 L281.1 332.5 L281.9 332 L282.7 331.5 L283.5 331 L284.3 330.5 L285.1 330.1 L285.9 329.6 L286.7 329.2 L287.5 328.9 L288.3 328.6 L289.1 328.2 L289.9 328 L290.7 327.7 L291.4 327.4 L292.2 327.2 L293 327 L293.8 326.8 L294.6 326.6 L295.3 326.5 L296.1 326.4 L296.8 326.2 L297.6 326.1 L298.3 325.9 L299.1 325.7 L299.8 325.3 L300.5 324.7 L301.2 323.9 L301.9 323 L302.6 322.2 L303.3 321.5 L304.1 320.8 L304.9 320.1 L305.7 319.5 L306.5 318.9 L307.3 318.5 L308.1 318.2 L308.9 317.8 L309.7 317.3 L310.5 316.2 L311.3 314.5 L312 312.6 L312.8 310.9 L313.6 309.4 L314.4 307.9 L315.2 306.5 L316 305.6 L316.7 305.2 L317.5 304.8 L318 304.3 L318.7 304.9 L319.4 306.5 L320.1 308.5 L320.8 311.2 L321.5 314.1 L322.2 316.8 L322.9 318.3 L323.6 317.4 L324.3 315.5 L325 312.4 L325.7 308.5 L326.5 304.2 L327.2 300.7 L327.9 298.8 L328.6 297.9 L329.3 299.6 L330 302.8 L330.7 306.9 L331.4 311.3 L332.1 314.9 L332.8 318.3 L333.5 322.8 L334.2 325.5 L334.9 324.1 L335.6 322.7 L336.3 325.1 L337 327.5 L337.7 326.7 L338.4 324.1 L339.1 311.3 L339.4 309.9 L339.8 308.2 L340.5 307.1 L341.2 308.5 L341.7 309.4 L341.9 310 L342.6 309.4 L343.4 308.5 L343.9 307.1 L344.1 306.6 L344.8 304.2 L345.3 302.7 L345.9 301.2 L346.4 304 L346.9 308.9 L347.6 313.5 L347.9 315.5 L348.3 318.5 L349 323.6 L349.7 326.6 L350.4 327.1 L351.1 324.4 L351.4 325.2 L351.8 321.8 L352.5 322.5 L353.1 319.9 L353.2 321.2 L353.8 320.9 L354.3 320 L354.7 321.2 L354.9 320.3 L355.5 320.9 L356.1 319.2 L356.7 319.9 L357.4 321.2 L357.6 325.7 L358.1 324.7 L358.8 321.6 L359 326.6 L359.5 320.7 L360.3 320.5 L361 323.6 L361.7 326.6 L362.4 318.8 L362.9 321.8 L363.1 322.7 L363.8 322.1 L364.1 329.2 L364.5 325.4 L365.2 329 L365.9 332.1 L366.4 335.9 L366.6 341.6 L367.3 336.5 L367.5 338.4 L368 337.6 L368.6 339 L368.7 332.2 L369.4 342.1 L369.6 335 L370.1 328.5 L370.6 324.5 L370.8 340.1 L371.5 325.9 L372.2 341.1 L372.5 336.5 L372.9 335.6 L373.5 343.4 L373.6 344.7 L374.3 347.3 L375 346.3 L375.2 357.1 L375.7 351.1 L376.1 346.4 L376.5 345.9 L376.9 342.7 L377.5 351.3 L377.8 342.8 L378.1 357.7 L378.6 357.7 L378.8 358.9 L379.3 360.5 L380 353.2 L380.6 362.3 L380.9 346.6 L381.2 364.5 L381.6 354.8 L381.9 353.9 L382.3 345.5 L383 342.4 L383.5 346.9 L383.7 330.4 L384.1 330.1 L384.4 335.9 L384.8 323.5 L385.1 339.4 L385.5 327.3 L385.7 328.8 L386.2 326.4 L386.4 339.9 L386.9 330.4 L387.6 333.6 L388.2 335.6 L388.3 322.7 L388.8 325.9 L389.3 326 L390 323 L390.5 323.9 L390.7 324.2 L391.1 332.5 L391.4 335.5 L391.7 334.7 L392.1 332.6 L392.7 332.8 L393.3 351 L393.5 330.1 L393.8 335 L394.3 338.5 L394.8 340.2 L395 343.3 L395.3 344.6 L395.7 354.8 L395.8 359.6 L396.3 341.5 L396.8 340.7 L397.1 355.6 L397.2 337.5 L397.7 338.4 L398.2 338.7 L398.5 341.9 L398.6 338.7 L399.1 334.4 L399.2 334.2 L399.5 333.5 L399.9 341.2 L400.4 330.1 L400.6 341.1 L400.8 332.2 L401.2 333.8 L401.6 336.5 L402 343 L402.4 334.7 L402.7 331.4 L402.8 337.2 L403.2 341 L403.4 324.3 L403.6 330.2 L403.9 331.9 L404 324.7 L404.4 317.5 L404.8 322 L405 324.6 L405.2 340.8 L405.5 328.3 L405.9 330.9 L406.2 341.2 L406.6 343.5 L406.8 333.5 L407 340.2 L407.4 335.6"/>
<path class="c" stroke="#ff2ba0" stroke-width="1.3" d="M241.4 336.9 L242 337 L242.5 337.2 L243.1 337.3 L243.9 337.5 L244.7 337.7 L245.5 337.9 L246.3 338.1 L247.1 338.3 L247.9 338.5 L248.7 338.6 L249.5 338.8 L250.2 339 L251 339.1 L251.8 339.3 L252.6 339.5 L253.4 339.6 L254.2 339.8 L255 339.9 L255.8 340.1 L256.6 340.2 L257.4 340.4 L258.2 340.5 L259 340.6 L259.8 340.7 L260.5 340.9 L261.3 341 L262.1 341.1 L262.9 341.3 L263.7 341.4 L264.5 341.6 L265.3 341.8 L266.1 341.9 L266.9 342.1 L267.7 342.2 L268.5 342.2 L269.3 342.2 L270.1 342 L270.8 341.9 L271.6 341.7 L272.4 341.4 L273.2 341.1 L274 340.8 L274.8 340.5 L275.6 340.1 L276.3 339.6 L277.1 339 L277.8 338.4 L278.6 337.7 L279.3 337 L280.1 336.3 L280.8 335.6 L281.6 334.8 L282.4 334.1 L283.1 333.3 L283.9 332.5 L284.6 331.8 L285.4 331 L286.2 330.2 L287 329.4 L287.7 328.6 L288.5 327.8 L289.3 327 L290.1 326.2 L290.9 325.4 L291.7 324.7 L292.5 323.9 L293.3 323.2 L294.1 322.4 L294.9 321.7 L295.7 321 L296.5 320.3 L297.3 319.6 L298 318.9 L298.8 318.3 L299.6 317.8 L300.4 317.3 L301.2 316.8 L302 316.2 L302.8 315.6 L303.6 314.9 L304.4 314.1 L305.1 313 L305.9 311.7 L306.7 310.2 L307.4 308.5 L308.2 306.7 L308.9 304.8 L309.6 302.7 L310.3 300.5 L311.1 298.2 L311.8 296.1 L312.5 294.1 L313.2 291.9 L313.8 290.1 L314.5 288.7 L315.3 287.7 L316 287.3 L316.7 287.9 L317.5 288.9 L318 289.5 L318.7 291.4 L319.4 294.3 L320.1 297.2 L320.8 299.7 L321.5 302.2 L322.2 304.3 L322.9 306 L323.6 307.4 L324.3 308.5 L325 309 L325.7 309.4 L326.5 310 L327.2 311.6 L327.9 314.2 L328.6 317 L329.3 320.1 L330 323.5 L330.7 326.9 L331.4 330.4 L332.1 333.9 L332.8 336.8 L333.5 339.1 L334.2 340.3 L334.9 338.2 L335.6 334.6 L336.3 330.7 L337 328.4 L337.7 329.4 L338.4 331.1 L339.1 332.9 L339.4 333.4 L339.8 333.9 L340.5 330.7 L341.2 325.5 L341.7 323.1 L341.9 322 L342.6 317.1 L343.4 297.3 L343.9 291.5 L344.1 290.1 L344.8 285.7 L345.3 283.8 L345.9 282.3 L346.4 284.9 L346.9 290.5 L347.4 295.3 L347.9 304.5 L348.3 321.4 L349 327.2 L349.7 331.2 L350.2 333.9 L350.7 335.9 L351.2 333.2 L351.4 331.3 L351.8 329.1 L352.5 326.1 L353.1 324.9 L353.2 324.8 L353.8 325.5 L354.3 325.9 L354.7 329.3 L354.8 328.4 L355.3 329.2 L356 327.6 L356.2 324 L356.7 320 L357.4 318.4 L357.6 314.5 L358.1 318.2 L358.8 314.8 L359 318.6 L359.5 317.3 L360.3 317.4 L361 308.7 L361.7 313.8 L362.4 307.9 L362.9 304.3 L363.4 303.9 L363.9 312.9 L364.1 305.7 L364.5 309.6 L365.2 315.1 L365.9 330.1 L366.4 321.7 L366.6 318.8 L367.3 326 L367.5 321.8 L368 337.3 L368.6 326 L368.7 339.4 L369.4 331.8 L369.6 333.9 L370.1 335 L370.6 332.9 L371.2 326.1 L371.6 322.2 L371.7 333.2 L372.2 330.7 L372.5 344.5 L372.7 337 L373.2 347.1 L373.5 345.6 L373.8 351.6 L374.3 356.6 L375 353 L375.2 353.4 L375.7 347.3 L376.1 353.7 L376.5 340.9 L376.9 343 L377.2 344.9 L377.6 342.9 L377.8 352.2 L378.1 341.6 L378.6 345.1 L378.8 344.9 L379.3 360.2 L380.1 345.4 L380.9 346.5 L381.6 341.4 L382.3 352.5 L383 352 L383.7 342.6 L384.4 335.7 L385.1 325.3 L385.7 318.1 L386.2 306.4 L386.4 304.5 L386.7 323.5 L387 317.1 L387.2 317.8 L387.6 327.9 L387.9 335.7 L388.2 326.6 L388.6 342.8 L388.8 331.5 L389.3 354 L390 345.1 L390.5 363.1 L390.7 346.1 L391.1 343.2 L391.4 355.7 L391.7 340.8 L392.1 344.6 L392.7 338 L393.3 339.8 L393.5 357.2 L393.8 344.3 L394.3 355.7 L394.8 344.2 L395 345.3 L395.3 344.2 L395.7 345.4 L395.8 338.8 L396.3 339.6 L396.8 348.7 L397.1 349.6 L397.2 358.1 L397.6 357.5 L398.2 371.1 L398.6 366.7 L399.1 346.6 L399.2 333.6 L399.5 338.2 L399.9 327.3 L400.4 366.7 L400.6 367 L400.8 360.9 L401.1 353 L401.2 355.9 L401.6 349 L402 356.1 L402.3 355.7 L402.4 364 L402.8 370.2 L403 387.9 L403.2 373.3 L403.5 367.3 L404 349.1 L404.4 356.3 L404.8 348 L405.2 344.3 L405.5 343.7 L405.9 340.7 L406.2 349.8 L406.6 339.4 L406.8 342.4 L407 353.4 L407.4 345.4"/>
</g>
<path class="t" d="M243 397v-2.7M243 233.2v2.7M253.2 397v-2.7M253.2 233.2v2.7M261.2 397v-2.7M261.2 233.2v2.7M267.7 397v-2.7M267.7 233.2v2.7M273.2 397v-2.7M273.2 233.2v2.7M277.9 397v-2.7M277.9 233.2v2.7M282.1 397v-2.7M282.1 233.2v2.7M285.9 397v-5M285.9 233.2v5M310.6 397v-2.7M310.6 233.2v2.7M325 397v-2.7M325 233.2v2.7M335.2 397v-2.7M335.2 233.2v2.7M343.2 397v-2.7M343.2 233.2v2.7M349.7 397v-2.7M349.7 233.2v2.7M355.2 397v-2.7M355.2 233.2v2.7M359.9 397v-2.7M359.9 233.2v2.7M364.1 397v-2.7M364.1 233.2v2.7M367.9 397v-5M367.9 233.2v5M392.6 397v-2.7M392.6 233.2v2.7M407 397v-2.7M407 233.2v2.7M243 397h5M407 397h-5M243 380.6h2.7M407 380.6h-2.7M243 370.9h2.7M407 370.9h-2.7M243 364.1h2.7M407 364.1h-2.7M243 358.8h2.7M407 358.8h-2.7M243 354.5h2.7M407 354.5h-2.7M243 350.8h2.7M407 350.8h-2.7M243 347.7h2.7M407 347.7h-2.7M243 344.9h2.7M407 344.9h-2.7M243 342.4h5M407 342.4h-5M243 325.9h2.7M407 325.9h-2.7M243 316.3h2.7M407 316.3h-2.7M243 309.5h2.7M407 309.5h-2.7M243 304.2h2.7M407 304.2h-2.7M243 299.9h2.7M407 299.9h-2.7M243 296.2h2.7M407 296.2h-2.7M243 293.1h2.7M407 293.1h-2.7M243 290.3h2.7M407 290.3h-2.7M243 287.8h5M407 287.8h-5M243 271.3h2.7M407 271.3h-2.7M243 261.7h2.7M407 261.7h-2.7M243 254.9h2.7M407 254.9h-2.7M243 249.6h2.7M407 249.6h-2.7M243 245.3h2.7M407 245.3h-2.7M243 241.6h2.7M407 241.6h-2.7M243 238.4h2.7M407 238.4h-2.7M243 235.6h2.7M407 235.6h-2.7"/>
<rect class="b" x="243" y="233.2" width="164" height="163.8"/>
<text x="237.2" y="236.7" font-size="10" text-anchor="end">10<tspan font-size="6.6" dy="-3.8">2</tspan></text>
<text x="237.2" y="291.3" font-size="10" text-anchor="end">10<tspan font-size="6.6" dy="-3.8">1</tspan></text>
<text x="237.2" y="345.9" font-size="10" text-anchor="end">10<tspan font-size="6.6" dy="-3.8">0</tspan></text>
<text x="237.2" y="400.5" font-size="10" text-anchor="end">10<tspan font-size="6.6" dy="-3.8">−1</tspan></text>
<text x="286.2" y="409.9" font-size="10" text-anchor="middle">10<tspan font-size="6.6" dy="-3.8">−1</tspan></text>
<text x="368.2" y="409.9" font-size="10" text-anchor="middle">10<tspan font-size="6.6" dy="-3.8">0</tspan></text>
<text x="324.6" y="422.5" font-size="9.65" text-anchor="middle">Frequency [Hz]</text>
</g>
<g id="p6">
<clipPath id="cp6"><rect x="448.3" y="233.2" width="164" height="163.8"/></clipPath>
<path class="g" d="M491.2 233.2V397"/>
<path class="g" d="M573.2 233.2V397"/>
<path class="g" d="M448.3 287.8H612.3"/>
<path class="g" d="M448.3 342.4H612.3"/>
<g clip-path="url(#cp6)">
<path class="c" stroke="#aaaaaa" stroke-width="1.15" d="M446.4 335.5 L447.2 335.4 L448 335.4 L448.8 335.4 L449.5 335.3 L450.3 335.3 L451.1 335.2 L451.9 335.2 L452.7 335.1 L453.4 335.1 L454.2 335 L455 335 L455.8 334.9 L456.6 334.9 L457.3 334.8 L458.1 334.7 L458.9 334.6 L459.6 334.5 L460.4 334.4 L461.2 334.3 L461.9 334.2 L462.7 334.1 L463.5 334 L464.2 333.9 L465 333.8 L465.8 333.7 L466.5 333.6 L467.2 333.4 L468 333.3 L468.7 333.2 L469.5 333 L470.2 332.9 L470.9 332.8 L471.7 332.8 L472.4 332.7 L473.2 332.8 L473.9 333 L474.7 333.3 L475.4 333.6 L476.2 334 L476.9 334.4 L477.7 334.9 L478.4 335.3 L479.2 335.9 L480 336.5 L480.7 337.2 L481.5 337.9 L482.2 338.5 L483 339.1 L483.7 339.6 L484.5 340.2 L485.2 340.8 L486 341.4 L486.7 341.8 L487.5 342.1 L488.3 342.3 L489 342.2 L489.8 342 L490.5 341.7 L491.3 341.4 L492 341 L492.8 340.6 L493.5 340.1 L494.3 339.7 L495 339 L495.8 338.3 L496.6 337.6 L497.3 336.9 L498.1 336.4 L498.8 335.9 L499.6 335.6 L500.3 335.2 L501.1 334.9 L501.8 334.6 L502.6 334.4 L503.3 334.3 L504.1 334.2 L504.9 334.4 L505.7 334.7 L506.5 335.3 L507.3 335.9 L508.1 337 L508.9 338.6 L509.6 340.5 L510.4 342.3 L511.1 344 L511.8 345.9 L512.5 347.5 L513.2 348.2 L513.8 347.6 L514.5 346.1 L515.1 344.2 L515.7 342.3 L516.5 339.5 L517.3 336 L518.1 332.6 L518.9 329.6 L519.6 327.3 L520.3 325.1 L521 323.2 L521.6 322.2 L522.3 321.7 L523 321.3 L523.8 321.1 L524.3 321.8 L524.9 323.5 L525.4 325.4 L526.1 328.2 L526.8 331 L527.5 332.9 L528.2 334.5 L528.9 335.2 L529.6 334.1 L530.3 331.8 L531 329.6 L531.7 328.1 L532.5 326.7 L533.2 325.4 L533.9 323.9 L534.6 322.5 L535.3 321.1 L536 319.4 L536.7 318.3 L537.4 320.3 L538.1 323.9 L538.6 327.3 L539.2 331.1 L539.8 333.8 L540.4 335.5 L541 336.8 L541.6 337.3 L542.3 336.6 L543 335 L543.7 333.8 L544.4 333.1 L544.7 332.9 L545.1 332.6 L545.8 332.4 L546.5 332.7 L547 333 L547.2 333.3 L547.9 333.9 L548.6 334.3 L549.2 334.5 L549.4 334.7 L550.1 335 L550.8 336.3 L551.2 336.9 L551.5 337.1 L552.2 337.9 L552.9 338.1 L553.2 338.7 L553.6 338.8 L554.3 338.7 L554.9 338.5 L555.5 335.8 L556.1 333.7 L556.7 329.6 L557.5 325.5 L558.2 321.2 L558.4 320.8 L558.9 318 L559.6 320.7 L560 324.2 L560.3 326.5 L561 323.6 L561.5 324.7 L561.7 324 L562.5 321.4 L562.9 316.9 L563.2 318.6 L563.6 320.3 L564 327.2 L564.3 326.6 L564.7 324.4 L565.4 322.3 L565.7 323.1 L566.1 318.8 L566.8 321.8 L567 314.1 L567.5 317.9 L568.2 315 L568.9 315.4 L569.4 314.1 L569.6 322.3 L570.3 318.2 L570.6 322.9 L571 324.8 L571.7 336.9 L572.2 332.9 L572.7 335 L573.3 335.9 L573.9 331.5 L574.6 318.4 L574.9 313.2 L575.3 309.3 L575.9 308.4 L576.7 310.5 L576.9 305.3 L577.4 304.4 L577.8 309 L578.1 306.9 L578.8 307.9 L579.5 307.2 L579.7 308.4 L580.2 313.3 L580.5 324.4 L580.9 317.3 L581.4 327.2 L581.6 323.7 L582.2 335.8 L583 329.2 L583.7 342.4 L583.9 329.1 L584.4 336.1 L584.6 338 L585.1 336.2 L585.4 339.3 L585.7 352.7 L586.2 350.6 L586.7 356.5 L586.9 337.1 L587.2 336.1 L587.6 329.2 L587.9 324.4 L588.3 323.6 L588.6 315.8 L589 316.9 L589.4 311.7 L589.7 315.1 L590.1 308.6 L590.4 315.7 L590.8 317.1 L591 310.8 L591.5 317.9 L591.7 318.1 L592.2 326.9 L592.9 319.3 L593.5 326.9 L594.1 333.8 L594.3 326.1 L594.7 326.8 L595 338 L595.3 318 L595.7 315.7 L595.8 316.2 L596.4 321 L597 309.6 L597.1 306.1 L597.5 309.3 L597.8 309 L598 306.4 L598.5 305 L599.1 310.5 L599.2 310.3 L599.6 315.7 L599.9 316.7 L600.1 312.9 L600.6 319.1 L601.1 318.8 L601.3 323.3 L601.6 319.1 L602 312.8 L602.5 305.3 L602.7 311.5 L603 313.4 L603.4 306.8 L603.9 297.8 L604.4 300.8 L604.6 299.5 L604.8 302.4 L605.1 311.5 L605.2 309.6 L605.5 317.3 L606.1 329.8 L606.3 327.5 L606.5 339.6 L606.9 329.5 L607.3 327.3 L607.7 329 L608.1 328.6 L608.4 323.1 L608.5 326.2 L608.9 331.9 L609.1 331.9 L609.3 347.1 L609.7 338.3 L610.1 337.2 L610.5 339.6 L610.8 347.4 L611.2 334.3 L611.6 336.5 L611.9 337.6 L612.3 335.9 L612.6 350.4"/>
<path class="c" stroke="#1faaff" stroke-width="1.3" d="M446.4 342.3 L447.2 342.3 L448 342.3 L448.8 342.3 L449.5 342.3 L450.3 342.3 L451.1 342.3 L451.9 342.3 L452.7 342.3 L453.4 342.3 L454.2 342.3 L455 342.3 L455.8 342.3 L456.6 342.3 L457.3 342.2 L458.1 342.2 L458.9 342.2 L459.6 342.1 L460.4 342.1 L461.2 342 L461.9 342 L462.7 341.9 L463.5 341.9 L464.2 341.8 L465 341.8 L465.8 341.8 L466.6 341.8 L467.3 341.8 L468.1 341.8 L468.9 341.8 L469.6 341.8 L470.4 341.8 L471.2 341.8 L471.9 341.8 L472.7 341.8 L473.5 341.8 L474.3 341.9 L475.1 342.1 L475.8 342.3 L476.6 342.7 L477.4 343 L478.2 343.4 L479 343.7 L479.8 343.9 L480.6 344.2 L481.4 344.4 L482.2 344.7 L483 344.9 L483.8 345.1 L484.6 345.3 L485.4 345.4 L486.1 345.4 L486.9 345.4 L487.7 345.3 L488.5 345.2 L489.3 345.1 L490.1 344.9 L490.9 344.7 L491.7 344.5 L492.5 344.4 L493.3 344.2 L494.1 343.9 L494.9 343.6 L495.7 343.3 L496.4 343 L497.2 342.7 L498 342.5 L498.8 342.3 L499.6 342.1 L500.4 341.9 L501.2 341.7 L502 341.6 L502.8 341.4 L503.6 341.3 L504.4 341.2 L505.2 341.2 L505.9 341.3 L506.6 341.4 L507.3 341.6 L508 341.8 L508.7 342.1 L509.4 342.3 L510.1 342.4 L510.8 342.6 L511.5 342.8 L512.2 343 L512.9 343.1 L513.6 343.3 L514.4 343.5 L515.1 343.6 L515.9 343.7 L516.6 343.8 L517.4 344 L518.1 344.2 L518.9 344.4 L519.6 344.8 L520.3 345.4 L521 346.1 L521.7 346.8 L522.4 347.3 L523.1 347.5 L523.6 347.4 L524 347.2 L524.7 348.1 L525.4 349.8 L526.1 350.7 L526.8 350.3 L527.5 349.7 L528.2 349.3 L528.9 349.4 L529.6 349.6 L530.3 350 L530.9 351.3 L531.6 353.2 L532.2 354.2 L532.7 352.2 L533.3 347.8 L533.9 343.7 L534.6 339.8 L535.3 336.6 L535.8 334.3 L536.4 333.1 L537 333.6 L537.5 334.7 L538.1 335.2 L538.8 335.1 L539.5 334.8 L540.2 334.5 L540.9 334.3 L541.6 334.1 L542.3 333.8 L543 330.7 L543.7 326.8 L544.4 324.9 L544.7 324.4 L545.1 324 L545.8 325.5 L546.5 328.1 L547 330.4 L547.2 331.2 L547.9 333.1 L548.6 330.1 L549.2 326.3 L549.4 325.2 L549.9 322.6 L550.5 321.2 L551 324.2 L551.2 326 L551.5 327.9 L552.2 332.2 L552.9 333.5 L553.2 334.3 L553.6 333.2 L554.3 332 L555 331.7 L555.7 327.7 L556.4 326.5 L556.7 323.4 L557.1 322.3 L557.8 318.7 L558.4 315.3 L558.5 315.5 L559.2 318.1 L559.9 320.4 L560.6 316.2 L561.3 314.5 L561.5 313.9 L562 309.6 L562.7 308.4 L562.9 313.8 L563.2 311.1 L563.7 316.9 L564.3 321.3 L564.8 322.4 L565.4 323 L565.7 321.6 L566.1 315.2 L566.8 306.5 L567 305.6 L567.5 302.6 L568.2 311.2 L568.9 303.2 L569.4 306 L569.6 307.7 L570.3 310.1 L570.6 319.2 L571 317.6 L571.7 319.7 L572.5 326.9 L572.8 328.1 L573.2 327.1 L573.9 334.7 L574.6 336.8 L574.9 336 L575.3 338.9 L575.9 338.3 L576.7 328.2 L576.9 314.3 L577.2 309.5 L577.8 307.8 L578.3 291.2 L578.8 287.6 L579.3 291.7 L579.7 293.8 L580.3 303.6 L580.5 307 L580.9 318.1 L581.4 318.1 L581.6 311.9 L582.2 309.8 L583 306.1 L583.7 306.3 L583.9 306.9 L584.3 314.1 L584.6 305.4 L584.8 310.2 L585.3 333.5 L585.8 330.9 L586.2 334.5 L586.5 329.7 L586.9 338.9 L587.2 330.7 L587.6 327.1 L587.9 321.4 L588.3 323.2 L588.6 325.4 L589 313.3 L589.4 324.6 L589.7 309.7 L590.1 313.3 L590.4 314.4 L590.8 315.1 L591 321 L591.5 320.1 L591.7 326.6 L592.2 324.7 L592.9 334.6 L593.5 336.3 L594.1 341.2 L594.3 344.2 L594.7 333.3 L595 342.7 L595.3 330.3 L595.7 324.8 L595.8 326.5 L596.4 318.7 L597 325.3 L597.1 318.1 L597.5 323.5 L597.8 324.3 L598 344.1 L598.5 333 L599.1 345.7 L599.2 330.2 L599.6 337.1 L599.9 328.5 L600.1 336 L600.6 321.1 L601.1 317.9 L601.3 330.6 L601.6 312.8 L602 313.7 L602.5 309.4 L602.7 309.8 L603 310.3 L603.4 318.8 L603.9 325.5 L604.1 315.7 L604.4 320 L604.8 321.9 L605.2 318.2 L605.5 315.6 L606.1 311.5 L606.3 316.4 L606.5 309.4 L606.9 309 L607.3 316.1 L607.7 302.9 L607.9 299.1 L608.1 306 L608.5 306.3 L608.9 331.9 L609.1 314.3 L609.3 327.9 L609.7 325 L610.1 327.8 L610.5 331.1 L610.8 344.1 L611.2 332 L611.6 325.2 L611.9 325.5 L612.3 329.5 L612.6 328.3"/>
<path class="c" stroke="#2bff2b" stroke-width="1.3" d="M446.4 337.6 L447.2 337.6 L448 337.5 L448.8 337.5 L449.5 337.4 L450.3 337.4 L451.1 337.4 L451.9 337.3 L452.7 337.3 L453.4 337.2 L454.2 337.2 L455 337.1 L455.8 337 L456.6 337 L457.3 336.9 L458.1 336.8 L458.9 336.7 L459.6 336.5 L460.4 336.4 L461.2 336.2 L461.9 336.1 L462.7 335.9 L463.5 335.8 L464.2 335.6 L465 335.5 L465.8 335.4 L466.5 335.2 L467.2 335.1 L468 335 L468.7 334.8 L469.5 334.7 L470.2 334.6 L470.9 334.5 L471.7 334.5 L472.4 334.4 L473.2 334.5 L473.9 334.6 L474.7 334.8 L475.4 335 L476.2 335.3 L476.9 335.6 L477.7 335.9 L478.4 336.3 L479.2 336.9 L480 337.6 L480.7 338.3 L481.5 339 L482.2 339.6 L483 340.1 L483.7 340.6 L484.5 341.1 L485.2 341.6 L486 342 L486.7 342.4 L487.5 342.6 L488.3 342.7 L489 342.6 L489.8 342.4 L490.5 342 L491.3 341.6 L492 341.1 L492.8 340.6 L493.5 340.1 L494.3 339.6 L495 338.9 L495.8 338.1 L496.6 337.2 L497.3 336.4 L498.1 335.6 L498.8 334.9 L499.6 334.2 L500.3 333.5 L501.1 332.9 L501.8 332.3 L502.6 331.7 L503.3 331.1 L504.1 330.6 L504.8 330.2 L505.5 329.7 L506.2 329.3 L506.9 328.9 L507.6 328.6 L508.3 328.5 L509 328.5 L509.7 328.5 L510.4 328.5 L511.1 328.5 L511.8 328.5 L512.6 328.5 L513.3 328.4 L514 328.2 L514.7 328 L515.4 327.7 L516.1 327.5 L516.8 327.5 L517.5 327.6 L518.2 328.1 L518.9 328.7 L519.6 329.4 L520.3 330.1 L521 330.6 L521.7 331 L522.4 331.3 L523.1 331.7 L523.8 332.3 L524.3 334.4 L524.9 337.9 L525.4 340.8 L526.1 343.4 L526.8 345.6 L527.5 346.5 L528.2 345.3 L528.9 342.5 L529.6 339.4 L530.3 335.9 L531 331.7 L531.7 328.2 L532.5 325.6 L533.2 323.3 L533.9 321.1 L534.6 318.7 L535.3 316.9 L536 315.9 L536.7 315.5 L537.4 317.3 L538.1 321.1 L538.6 325.3 L539.2 331 L539.7 337.8 L540.2 345.1 L540.7 350.7 L541.2 356.3 L541.6 363.3 L542 367.6 L542.3 365.5 L542.5 363.5 L543 356.3 L543.5 348.9 L544 342.3 L544.6 336.8 L544.7 335.8 L545.1 333.9 L545.8 333.2 L546.5 333.1 L547 334.2 L547.2 334.7 L547.9 336.8 L548.6 337 L549.2 337.3 L549.4 337.2 L550.1 335.9 L550.8 333.6 L551.2 333.3 L551.5 333.2 L552.2 332.9 L552.9 333.9 L553.2 334.6 L553.6 335.3 L554.3 337.3 L555 339.1 L555.5 337.1 L556.1 334 L556.6 330.3 L557.1 323.9 L557.6 317.9 L558.1 311.9 L558.4 308.6 L558.5 308.9 L558.9 304.5 L559.4 308.2 L559.9 314.7 L560.6 320 L561.3 326.8 L561.5 323.1 L562 320.9 L562.7 316.9 L562.9 319.8 L563.4 327.8 L564 334.7 L564.3 331.9 L564.7 326.8 L565.4 319.9 L565.7 316.3 L566.1 314.8 L566.8 310.7 L567 308.2 L567.5 314.2 L568.2 313.4 L568.9 313.5 L569.4 316.5 L569.6 319.6 L570.3 312.9 L570.6 320.4 L571 314.5 L571.7 313 L572.5 315.6 L572.8 319.7 L573.2 314.4 L573.9 328.2 L574.6 330.7 L574.9 341.1 L575.3 341.4 L575.9 333.5 L576.7 323.5 L576.9 320 L577.4 313.7 L577.8 305.9 L578.1 308.1 L578.6 295.9 L579.2 293.7 L579.7 306.2 L580.2 301.9 L580.5 307.3 L580.9 329.2 L581.4 325.4 L581.6 319.9 L582.2 317.3 L583 315.1 L583.7 305.9 L583.9 311 L584.4 305.9 L584.6 311.5 L585.1 315.4 L585.4 312.7 L585.8 317.1 L586.2 312.6 L586.5 303.5 L586.9 300.5 L587 295.5 L587.5 302.1 L588.1 300.4 L588.3 299.6 L588.6 323.9 L589 309.2 L589.4 320 L589.7 318.2 L590.1 336.5 L590.4 314.9 L590.8 314.2 L591 318 L591.5 298.1 L591.7 303.1 L592.2 318.6 L592.9 315.1 L593.5 325.2 L594.1 335.7 L594.3 340.6 L594.7 321.4 L595.3 317.8 L595.7 311.1 L595.8 301.7 L596.1 301.4 L596.4 305.1 L596.6 301.9 L597 317.9 L597.1 313.7 L597.5 311.7 L597.8 323.7 L598 318.1 L598.5 328.7 L599.1 340.9 L599.2 330.8 L599.6 338.5 L599.9 339.5 L600.1 341.3 L600.6 353 L601.1 352.5 L601.3 356.9 L601.6 375.2 L602 360.2 L602.5 347.7 L603 339.6 L603.2 329.7 L603.5 327.1 L603.6 318.6 L603.9 318.3 L604.1 317.1 L604.4 331.2 L604.6 323.8 L604.8 324.5 L605.1 335.4 L605.7 358 L605.8 353.3 L606.1 347.8 L606.4 345.8 L606.9 323.2 L607.3 339.6 L607.7 323.5 L608.1 341.2 L608.4 328.9 L608.5 349.2 L608.9 341.2 L609.1 351.3 L609.3 358.5 L609.7 357.3 L610.1 358.2 L610.5 346.6 L610.8 339.8 L611.2 338.6 L611.6 337.3 L611.9 343.1 L612.3 338.8 L612.6 351.4"/>
<path class="c" stroke="#ff2ba0" stroke-width="1.3" d="M446.4 339.1 L447.2 339 L448 338.9 L448.8 338.9 L449.5 338.8 L450.3 338.7 L451.1 338.7 L451.9 338.6 L452.7 338.5 L453.4 338.4 L454.2 338.3 L455 338.2 L455.8 338.1 L456.6 338 L457.3 337.9 L458.1 337.8 L458.9 337.6 L459.6 337.4 L460.4 337.2 L461.2 337 L461.9 336.8 L462.7 336.6 L463.5 336.3 L464.2 336.1 L465 335.9 L465.8 335.7 L466.5 335.4 L467.2 335.2 L468 334.9 L468.7 334.6 L469.5 334.4 L470.2 334.1 L470.9 334 L471.7 333.8 L472.4 333.8 L473.2 333.8 L473.9 333.9 L474.7 334 L475.4 334.2 L476.2 334.4 L476.9 334.6 L477.7 334.9 L478.4 335.2 L479.1 335.8 L479.8 336.5 L480.5 337.3 L481.2 338.2 L481.9 339.1 L482.6 340.1 L483.3 341.3 L484 342.6 L484.7 344 L485.4 345.3 L486.1 346.5 L486.8 347.7 L487.6 349.1 L488.3 350.5 L489 351.7 L489.7 352.5 L490.4 352.8 L491.1 352.8 L491.8 352.7 L492.5 352.5 L493.2 352.3 L493.9 352.1 L494.6 351.8 L495.3 351.2 L496 350.3 L496.7 349.2 L497.4 347.9 L498.1 346.6 L498.8 345.4 L499.5 344.3 L500.2 343.2 L500.9 342 L501.6 340.9 L502.3 339.9 L503 339.1 L503.8 338.4 L504.5 337.6 L505.2 337 L505.9 336.4 L506.6 336.1 L507.3 335.9 L508.1 336.2 L508.9 336.8 L509.6 337.5 L510.4 338 L511.1 338.4 L511.8 338.7 L512.5 339 L513.2 339.1 L513.9 338.8 L514.6 338.2 L515.3 337.4 L516.1 336.6 L516.8 335.9 L517.5 335.4 L518.2 335 L518.9 334.5 L519.6 334.1 L520.3 333.7 L521 333.4 L521.7 333.1 L522.4 332.8 L523.1 332.6 L523.8 332.3 L524.5 332.1 L525.3 332 L526.1 331.7 L526.8 330.9 L527.5 329.5 L528.2 328.2 L528.9 327 L529.6 325.9 L530.3 325.4 L531 326.1 L531.7 326.8 L532.5 325.3 L533.2 322.5 L533.9 319.6 L534.6 316.9 L535.2 315 L535.8 313.4 L536.4 312.7 L537 313.9 L537.5 316.8 L538.1 319.7 L538.8 323.3 L539.5 326.8 L540.2 330.4 L540.9 332.4 L541.6 331.7 L542.3 330.3 L543 328.5 L543.7 326.8 L544.4 325.4 L544.7 325 L545.1 324.6 L545.8 327.9 L546.5 330.9 L547 330.4 L547.2 329.9 L547.9 328.2 L548.6 326.1 L549.2 324.3 L549.4 323.9 L549.9 322.4 L550.5 322.4 L551 323.7 L551.2 325.1 L551.5 326.6 L552.2 330.4 L552.9 332.6 L553.2 331.4 L553.6 331.2 L554.3 328 L555 325.5 L555.7 325.1 L556.4 323.2 L556.7 321.3 L557.1 320.5 L557.6 317.8 L558.1 310.7 L558.4 308.3 L558.5 309.4 L558.9 305.7 L559.4 309.5 L559.9 315.9 L560.6 324 L561.3 329.7 L561.5 328.7 L561.8 325.1 L562.3 323.2 L562.9 326.7 L563.4 333 L564 341.9 L564.3 341.4 L564.6 340.8 L565.3 342.5 L565.7 336.9 L566 325 L566.4 317.9 L566.8 312.4 L567 312.1 L567.5 309.3 L568.2 312.4 L568.9 302.6 L569.4 307.7 L569.6 297.4 L570.2 291.8 L570.6 290.7 L570.8 296.1 L571.3 293.7 L571.7 311.7 L572.5 313.1 L572.8 319.1 L573.2 324.7 L573.9 327.7 L574.6 337.6 L574.9 342.2 L575.3 342.2 L575.8 344.2 L576.4 334.4 L576.9 336.2 L577.5 308.7 L577.8 304.8 L578.1 302 L578.6 293.9 L579.2 288.7 L579.7 293 L580.2 311.7 L580.5 300.2 L580.9 313.6 L581.4 322.8 L581.6 316.1 L582.2 342 L582.4 339.8 L583.1 350.5 L583.8 350.8 L584.4 325.1 L584.6 321.5 L585.1 321.6 L585.4 337.3 L585.8 329.4 L586.2 326.8 L586.5 319.6 L586.9 328.9 L587.2 315.3 L587.6 326.4 L587.9 314.5 L588.3 306.1 L588.6 303.1 L589 307.9 L589.4 313.1 L589.7 311.5 L590.1 308.5 L590.4 315.9 L590.8 313 L591 321.1 L591.5 322.4 L591.7 323.2 L592.2 333.7 L592.9 334.6 L593.4 340.9 L594 354.1 L594.6 338.8 L594.7 337.5 L595.1 333 L595.3 339.4 L595.7 321.7 L595.8 321.3 L596.2 316.3 L596.4 314.3 L596.7 310.6 L597 316.5 L597.2 305.3 L597.5 306.4 L597.8 299.1 L598 308.2 L598.3 300.8 L598.6 297.9 L598.8 290.7 L599.1 307.2 L599.4 299.6 L599.6 303.2 L599.9 317.9 L600.1 310.7 L600.6 337.5 L601.1 326.5 L601.3 328.9 L601.6 330.3 L602 328.8 L602.5 319.9 L602.7 317.8 L603 315.8 L603.4 314.8 L603.9 312.2 L604.1 328.2 L604.4 316.1 L604.8 318.9 L605.2 313.9 L605.5 325.9 L606.1 320.7 L606.3 313 L606.5 321.8 L606.9 321.5 L607.3 317.3 L607.7 325.6 L607.9 325.3 L608.1 324.4 L608.5 331.6 L608.9 342 L609.1 344.5 L609.3 340.5 L609.7 356.4 L610.1 346.8 L610.5 342.7 L610.8 342.9 L611.2 346 L611.6 343.6 L611.9 337 L612.3 345.5 L612.6 344.7"/>
</g>
<path class="t" d="M448.3 397v-2.7M448.3 233.2v2.7M458.5 397v-2.7M458.5 233.2v2.7M466.5 397v-2.7M466.5 233.2v2.7M473 397v-2.7M473 233.2v2.7M478.5 397v-2.7M478.5 233.2v2.7M483.2 397v-2.7M483.2 233.2v2.7M487.4 397v-2.7M487.4 233.2v2.7M491.2 397v-5M491.2 233.2v5M515.9 397v-2.7M515.9 233.2v2.7M530.3 397v-2.7M530.3 233.2v2.7M540.5 397v-2.7M540.5 233.2v2.7M548.5 397v-2.7M548.5 233.2v2.7M555 397v-2.7M555 233.2v2.7M560.5 397v-2.7M560.5 233.2v2.7M565.2 397v-2.7M565.2 233.2v2.7M569.4 397v-2.7M569.4 233.2v2.7M573.2 397v-5M573.2 233.2v5M597.9 397v-2.7M597.9 233.2v2.7M612.3 397v-2.7M612.3 233.2v2.7M448.3 397h5M612.3 397h-5M448.3 380.6h2.7M612.3 380.6h-2.7M448.3 370.9h2.7M612.3 370.9h-2.7M448.3 364.1h2.7M612.3 364.1h-2.7M448.3 358.8h2.7M612.3 358.8h-2.7M448.3 354.5h2.7M612.3 354.5h-2.7M448.3 350.8h2.7M612.3 350.8h-2.7M448.3 347.7h2.7M612.3 347.7h-2.7M448.3 344.9h2.7M612.3 344.9h-2.7M448.3 342.4h5M612.3 342.4h-5M448.3 325.9h2.7M612.3 325.9h-2.7M448.3 316.3h2.7M612.3 316.3h-2.7M448.3 309.5h2.7M612.3 309.5h-2.7M448.3 304.2h2.7M612.3 304.2h-2.7M448.3 299.9h2.7M612.3 299.9h-2.7M448.3 296.2h2.7M612.3 296.2h-2.7M448.3 293.1h2.7M612.3 293.1h-2.7M448.3 290.3h2.7M612.3 290.3h-2.7M448.3 287.8h5M612.3 287.8h-5M448.3 271.3h2.7M612.3 271.3h-2.7M448.3 261.7h2.7M612.3 261.7h-2.7M448.3 254.9h2.7M612.3 254.9h-2.7M448.3 249.6h2.7M612.3 249.6h-2.7M448.3 245.3h2.7M612.3 245.3h-2.7M448.3 241.6h2.7M612.3 241.6h-2.7M448.3 238.4h2.7M612.3 238.4h-2.7M448.3 235.6h2.7M612.3 235.6h-2.7"/>
<rect class="b" x="448.3" y="233.2" width="164" height="163.8"/>
<text x="442.5" y="236.7" font-size="10" text-anchor="end">10<tspan font-size="6.6" dy="-3.8">2</tspan></text>
<text x="442.5" y="291.3" font-size="10" text-anchor="end">10<tspan font-size="6.6" dy="-3.8">1</tspan></text>
<text x="442.5" y="345.9" font-size="10" text-anchor="end">10<tspan font-size="6.6" dy="-3.8">0</tspan></text>
<text x="442.5" y="400.5" font-size="10" text-anchor="end">10<tspan font-size="6.6" dy="-3.8">−1</tspan></text>
<text x="491.5" y="409.9" font-size="10" text-anchor="middle">10<tspan font-size="6.6" dy="-3.8">−1</tspan></text>
<text x="573.5" y="409.9" font-size="10" text-anchor="middle">10<tspan font-size="6.6" dy="-3.8">0</tspan></text>
<text x="529.9" y="422.5" font-size="9.65" text-anchor="middle">Frequency [Hz]</text>
</g>
<text transform="translate(10.4,104.1) rotate(-90)" font-size="9.85" text-anchor="middle">Vel. Fourier Spectrum [cm/s *s]</text>
<text transform="translate(7.8,315.6) rotate(-90)" font-size="9.7" text-anchor="middle">Spectral Ratio</text>
<rect x="41.6" y="122.4" width="43.2" height="60" fill="#fff" stroke="#777" stroke-width="1"/>
<text x="45.6" y="133.9" font-size="10.7" style="fill:#1f5fff;stroke:#1f5fff">KTP</text>
<text x="45.6" y="144.9" font-size="10.7" style="fill:#1faaff;stroke:#1faaff">TVU</text>
<text x="45.6" y="155.9" font-size="10.7" style="fill:#2bff2b;stroke:#2bff2b">PTN</text>
<text x="45.6" y="166.9" font-size="10.7" style="fill:#ff2ba0;stroke:#ff2ba0">THM</text>
<text x="45.6" y="177.9" font-size="10.7" style="fill:#aaaaaa;stroke:#aaaaaa">KATNP</text>
<rect x="41" y="364.6" width="120.8" height="28.2" fill="#fff" stroke="#777" stroke-width="1"/>
<text x="45.5" y="376.4" font-size="10.6" style="fill:#1faaff;stroke:#1faaff">TVU/KTP</text>
<text x="45.5" y="387.3" font-size="10.6" style="fill:#2bff2b;stroke:#2bff2b">PTN/KTP</text>
<text x="100.8" y="376.4" font-size="10.6" style="fill:#ff2ba0;stroke:#ff2ba0">THM/KTP</text>
<text x="100.8" y="387.3" font-size="10.6" style="fill:#aaaaaa;stroke:#aaaaaa">KATNP/KTP</text>
</svg>
</body></html>
